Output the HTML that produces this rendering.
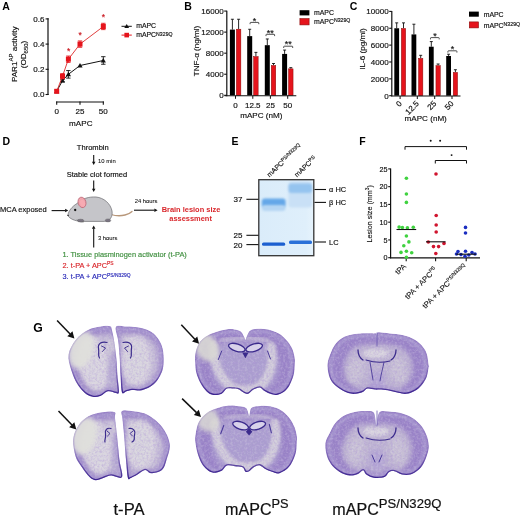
<!DOCTYPE html>
<html><head><meta charset="utf-8"><style>
html,body{margin:0;padding:0;background:#fff;width:520px;height:516px;overflow:hidden}
svg{display:block}
text{font-family:"Liberation Sans", sans-serif}
svg{will-change:transform}
.t{stroke:currentColor;stroke-width:0.22px}
</style></head><body>
<svg width="520" height="516" viewBox="0 0 520 516">
<text x="2.2" y="9.6" font-size="10.5" font-weight="bold" fill="#000" >A</text>
<line x1="48.00" y1="18.30" x2="48.00" y2="95.00" stroke="#111" stroke-width="1.2" />
<line x1="45.60" y1="94.50" x2="48.60" y2="94.50" stroke="#111" stroke-width="1.1" />
<text x="44.4" y="97.4" font-size="8" text-anchor="end" fill="#111" stroke="#111" stroke-width="0.16" >0.0</text>
<line x1="45.60" y1="69.30" x2="48.60" y2="69.30" stroke="#111" stroke-width="1.1" />
<text x="44.4" y="72.2" font-size="8" text-anchor="end" fill="#111" stroke="#111" stroke-width="0.16" >0.2</text>
<line x1="45.60" y1="44.10" x2="48.60" y2="44.10" stroke="#111" stroke-width="1.1" />
<text x="44.4" y="46.99999999999999" font-size="8" text-anchor="end" fill="#111" stroke="#111" stroke-width="0.16" >0.4</text>
<line x1="45.60" y1="18.90" x2="48.60" y2="18.90" stroke="#111" stroke-width="1.1" />
<text x="44.4" y="21.800000000000004" font-size="8" text-anchor="end" fill="#111" stroke="#111" stroke-width="0.16" >0.6</text>
<line x1="56.10" y1="102.00" x2="103.90" y2="102.00" stroke="#111" stroke-width="1.2" />
<line x1="56.70" y1="101.50" x2="56.70" y2="104.70" stroke="#111" stroke-width="1.1" />
<text x="56.7" y="114.2" font-size="8" text-anchor="middle" fill="#111" stroke="#111" stroke-width="0.16" >0</text>
<line x1="80.00" y1="101.50" x2="80.00" y2="104.70" stroke="#111" stroke-width="1.1" />
<text x="80.0" y="114.2" font-size="8" text-anchor="middle" fill="#111" stroke="#111" stroke-width="0.16" >25</text>
<line x1="103.30" y1="101.50" x2="103.30" y2="104.70" stroke="#111" stroke-width="1.1" />
<text x="103.30000000000001" y="114.2" font-size="8" text-anchor="middle" fill="#111" stroke="#111" stroke-width="0.16" >50</text>
<text x="80.8" y="126.3" font-size="8.1" text-anchor="middle" fill="#111" stroke="#111" stroke-width="0.16" >mAPC</text>
<g transform="translate(16.5,54.3) rotate(-90)"><text x="0" y="0" font-size="8.1" text-anchor="middle" fill="#111" stroke="#111" stroke-width="0.16">PAR1<tspan font-size="6" dy="-3.2">AP</tspan><tspan dy="3.2"> activity</tspan></text></g>
<g transform="translate(25.9,54.5) rotate(-90)"><text x="0" y="0" font-size="8.1" text-anchor="middle" fill="#111" stroke="#111" stroke-width="0.16">(OD<tspan font-size="6" dy="2">650</tspan><tspan dy="-2">)</tspan></text></g>
<polyline points="56.7,91.3 62.5,80.6 68.4,74.3 80.0,65.5 103.3,60.5" fill="none" stroke="#111" stroke-width="1"/>
<polygon points="56.7,88.8 54.1,93.3 59.3,93.3" fill="#111"/>
<line x1="62.53" y1="79.38" x2="62.53" y2="81.90" stroke="#111" stroke-width="0.9" />
<line x1="60.33" y1="79.38" x2="64.73" y2="79.38" stroke="#111" stroke-width="0.9" />
<line x1="60.33" y1="81.90" x2="64.73" y2="81.90" stroke="#111" stroke-width="0.9" />
<polygon points="62.5,78.0 59.9,82.6 65.1,82.6" fill="#111"/>
<line x1="68.35" y1="70.56" x2="68.35" y2="78.12" stroke="#111" stroke-width="0.9" />
<line x1="66.15" y1="70.56" x2="70.55" y2="70.56" stroke="#111" stroke-width="0.9" />
<line x1="66.15" y1="78.12" x2="70.55" y2="78.12" stroke="#111" stroke-width="0.9" />
<polygon points="68.4,71.7 65.8,76.3 71.0,76.3" fill="#111"/>
<polygon points="80.0,62.9 77.4,67.5 82.6,67.5" fill="#111"/>
<line x1="103.30" y1="56.70" x2="103.30" y2="64.26" stroke="#111" stroke-width="0.9" />
<line x1="101.10" y1="56.70" x2="105.50" y2="56.70" stroke="#111" stroke-width="0.9" />
<line x1="101.10" y1="64.26" x2="105.50" y2="64.26" stroke="#111" stroke-width="0.9" />
<polygon points="103.3,57.9 100.7,62.5 105.9,62.5" fill="#111"/>
<polyline points="56.7,91.3 62.5,76.2 68.4,59.2 80.0,44.1 103.3,26.5" fill="none" stroke="#dc2a2a" stroke-width="0.9"/>
<line x1="56.70" y1="90.09" x2="56.70" y2="92.61" stroke="#e5141c" stroke-width="0.9" />
<line x1="54.50" y1="90.09" x2="58.90" y2="90.09" stroke="#e5141c" stroke-width="0.9" />
<line x1="54.50" y1="92.61" x2="58.90" y2="92.61" stroke="#e5141c" stroke-width="0.9" />
<rect x="54.2" y="88.8" width="5" height="5" fill="#e5141c"/>
<line x1="62.53" y1="73.71" x2="62.53" y2="78.75" stroke="#e5141c" stroke-width="0.9" />
<line x1="60.33" y1="73.71" x2="64.73" y2="73.71" stroke="#e5141c" stroke-width="0.9" />
<line x1="60.33" y1="78.75" x2="64.73" y2="78.75" stroke="#e5141c" stroke-width="0.9" />
<rect x="60.0" y="73.7" width="5" height="5" fill="#e5141c"/>
<line x1="68.35" y1="56.07" x2="68.35" y2="62.37" stroke="#e5141c" stroke-width="0.9" />
<line x1="66.15" y1="56.07" x2="70.55" y2="56.07" stroke="#e5141c" stroke-width="0.9" />
<line x1="66.15" y1="62.37" x2="70.55" y2="62.37" stroke="#e5141c" stroke-width="0.9" />
<rect x="65.9" y="56.7" width="5" height="5" fill="#e5141c"/>
<line x1="80.00" y1="40.95" x2="80.00" y2="47.25" stroke="#e5141c" stroke-width="0.9" />
<line x1="77.80" y1="40.95" x2="82.20" y2="40.95" stroke="#e5141c" stroke-width="0.9" />
<line x1="77.80" y1="47.25" x2="82.20" y2="47.25" stroke="#e5141c" stroke-width="0.9" />
<rect x="77.5" y="41.6" width="5" height="5" fill="#e5141c"/>
<line x1="103.30" y1="23.31" x2="103.30" y2="29.61" stroke="#e5141c" stroke-width="0.9" />
<line x1="101.10" y1="23.31" x2="105.50" y2="23.31" stroke="#e5141c" stroke-width="0.9" />
<line x1="101.10" y1="29.61" x2="105.50" y2="29.61" stroke="#e5141c" stroke-width="0.9" />
<rect x="100.8" y="24.0" width="5" height="5" fill="#e5141c"/>
<text x="68.55000000000001" y="54.3" font-size="8.5" text-anchor="middle" fill="#c8141c" stroke="#c8141c" stroke-width="0.16" >*</text>
<text x="80.2" y="38.2" font-size="8.5" text-anchor="middle" fill="#c8141c" stroke="#c8141c" stroke-width="0.16" >*</text>
<text x="103.50000000000001" y="20.3" font-size="8.5" text-anchor="middle" fill="#c8141c" stroke="#c8141c" stroke-width="0.16" >*</text>
<line x1="121.50" y1="26.30" x2="131.80" y2="26.30" stroke="#111" stroke-width="1" />
<polygon points="126.7,23.9 124.3,28 129.1,28" fill="#111"/>
<text x="136.2" y="28.4" font-size="6.9" fill="#111" stroke="#111" stroke-width="0.16" >mAPC</text>
<line x1="121.50" y1="35.10" x2="131.80" y2="35.10" stroke="#e5141c" stroke-width="1" />
<rect x="124.4" y="32.8" width="4.6" height="4.6" fill="#e5141c"/>
<text x="136.2" y="37.4" font-size="6.9" fill="#111" stroke="#111" stroke-width="0.16" >mAPC<tspan font-size="5.2" dy="-1.8">N329Q</tspan></text>
<text x="184.2" y="9.8" font-size="10.5" font-weight="bold" fill="#000" >B</text>
<line x1="226.80" y1="10.70" x2="226.80" y2="96.30" stroke="#111" stroke-width="1.2" />
<line x1="224.20" y1="95.30" x2="226.80" y2="95.30" stroke="#111" stroke-width="1.1" />
<text x="223.6" y="98.2" font-size="8" text-anchor="end" fill="#111" stroke="#111" stroke-width="0.16" >0</text>
<line x1="224.20" y1="74.24" x2="226.80" y2="74.24" stroke="#111" stroke-width="1.1" />
<text x="223.6" y="77.14" font-size="8" text-anchor="end" fill="#111" stroke="#111" stroke-width="0.16" >4000</text>
<line x1="224.20" y1="53.18" x2="226.80" y2="53.18" stroke="#111" stroke-width="1.1" />
<text x="223.6" y="56.08" font-size="8" text-anchor="end" fill="#111" stroke="#111" stroke-width="0.16" >8000</text>
<line x1="224.20" y1="32.12" x2="226.80" y2="32.12" stroke="#111" stroke-width="1.1" />
<text x="223.6" y="35.019999999999996" font-size="8" text-anchor="end" fill="#111" stroke="#111" stroke-width="0.16" >12000</text>
<line x1="224.20" y1="11.06" x2="226.80" y2="11.06" stroke="#111" stroke-width="1.1" />
<text x="223.6" y="13.960000000000003" font-size="8" text-anchor="end" fill="#111" stroke="#111" stroke-width="0.16" >16000</text>
<g transform="translate(199.3,51) rotate(-90)"><text x="0" y="0" font-size="8.1" text-anchor="middle" fill="#111" stroke="#111" stroke-width="0.16">TNF-α (ng/ml)</text></g>
<line x1="232.40" y1="19.25" x2="232.40" y2="29.60" stroke="#111" stroke-width="0.9" />
<line x1="230.90" y1="19.25" x2="233.90" y2="19.25" stroke="#111" stroke-width="0.9" />
<rect x="229.90" y="29.60" width="5.0" height="65.70" fill="#000"/>
<line x1="238.60" y1="19.25" x2="238.60" y2="28.96" stroke="#111" stroke-width="0.9" />
<line x1="237.10" y1="19.25" x2="240.10" y2="19.25" stroke="#111" stroke-width="0.9" />
<rect x="236.35" y="29.21" width="4.5" height="66.09" fill="#e5141c" stroke="#8a0a0a" stroke-width="0.5"/>
<line x1="249.70" y1="29.28" x2="249.70" y2="36.12" stroke="#111" stroke-width="0.9" />
<line x1="248.20" y1="29.28" x2="251.20" y2="29.28" stroke="#111" stroke-width="0.9" />
<rect x="247.20" y="36.12" width="5.0" height="59.18" fill="#000"/>
<line x1="255.90" y1="52.39" x2="255.90" y2="56.34" stroke="#111" stroke-width="0.9" />
<line x1="254.40" y1="52.39" x2="257.40" y2="52.39" stroke="#111" stroke-width="0.9" />
<rect x="253.65" y="56.59" width="4.5" height="38.71" fill="#e5141c" stroke="#8a0a0a" stroke-width="0.5"/>
<line x1="267.30" y1="38.96" x2="267.30" y2="45.18" stroke="#111" stroke-width="0.9" />
<line x1="265.80" y1="38.96" x2="268.80" y2="38.96" stroke="#111" stroke-width="0.9" />
<rect x="264.80" y="45.18" width="5.0" height="50.12" fill="#000"/>
<line x1="273.50" y1="63.50" x2="273.50" y2="65.29" stroke="#111" stroke-width="0.9" />
<line x1="272.00" y1="63.50" x2="275.00" y2="63.50" stroke="#111" stroke-width="0.9" />
<rect x="271.25" y="65.54" width="4.5" height="29.76" fill="#e5141c" stroke="#8a0a0a" stroke-width="0.5"/>
<line x1="284.60" y1="50.07" x2="284.60" y2="53.92" stroke="#111" stroke-width="0.9" />
<line x1="283.10" y1="50.07" x2="286.10" y2="50.07" stroke="#111" stroke-width="0.9" />
<rect x="282.10" y="53.92" width="5.0" height="41.38" fill="#000"/>
<line x1="290.80" y1="67.66" x2="290.80" y2="68.61" stroke="#111" stroke-width="0.9" />
<line x1="289.30" y1="67.66" x2="292.30" y2="67.66" stroke="#111" stroke-width="0.9" />
<rect x="288.55" y="68.86" width="4.5" height="26.44" fill="#e5141c" stroke="#8a0a0a" stroke-width="0.5"/>
<line x1="224.50" y1="95.80" x2="296.30" y2="95.80" stroke="#111" stroke-width="1.1" />
<line x1="235.50" y1="95.80" x2="235.50" y2="98.80" stroke="#111" stroke-width="1.0" />
<text x="235.5" y="107.6" font-size="8" text-anchor="middle" fill="#111" stroke="#111" stroke-width="0.16" >0</text>
<line x1="252.80" y1="95.80" x2="252.80" y2="98.80" stroke="#111" stroke-width="1.0" />
<text x="252.8" y="107.6" font-size="8" text-anchor="middle" fill="#111" stroke="#111" stroke-width="0.16" >12.5</text>
<line x1="270.40" y1="95.80" x2="270.40" y2="98.80" stroke="#111" stroke-width="1.0" />
<text x="270.4" y="107.6" font-size="8" text-anchor="middle" fill="#111" stroke="#111" stroke-width="0.16" >25</text>
<line x1="287.70" y1="95.80" x2="287.70" y2="98.80" stroke="#111" stroke-width="1.0" />
<text x="287.7" y="107.6" font-size="8" text-anchor="middle" fill="#111" stroke="#111" stroke-width="0.16" >50</text>
<text x="261.3" y="117.7" font-size="8.1" text-anchor="middle" fill="#111" stroke="#111" stroke-width="0.16" >mAPC (nM)</text>
<path d="M250.1,24.2 L250.1,23.0 Q250.1,22.4 250.7,22.4 L258.2,22.4 Q258.8,22.4 258.8,23.0 L258.8,24.2" fill="none" stroke="#222" stroke-width="0.8"/>
<text x="254.5" y="23.9" font-size="9" text-anchor="middle" fill="#111" stroke="#111" stroke-width="0.16" >*</text>
<path d="M266,36.099999999999994 L266,34.9 Q266,34.3 266.6,34.3 L274.0,34.3 Q274.6,34.3 274.6,34.9 L274.6,36.099999999999994" fill="none" stroke="#222" stroke-width="0.8"/>
<text x="270.3" y="35.7" font-size="9" text-anchor="middle" fill="#111" stroke="#111" stroke-width="0.16" >**</text>
<path d="M283.7,48.0 L283.7,46.800000000000004 Q283.7,46.2 284.3,46.2 L292.09999999999997,46.2 Q292.7,46.2 292.7,46.800000000000004 L292.7,48.0" fill="none" stroke="#222" stroke-width="0.8"/>
<text x="288.2" y="47.3" font-size="9" text-anchor="middle" fill="#111" stroke="#111" stroke-width="0.16" >**</text>
<rect x="299.6" y="10.2" width="9.8" height="5.2" fill="#000"/>
<rect x="299.9" y="18.6" width="9.2" height="6.3" fill="#e5141c" stroke="#8a0a0a" stroke-width="0.6"/>
<text x="314" y="15.4" font-size="6.9" fill="#111" stroke="#111" stroke-width="0.16" >mAPC</text>
<text x="314" y="24.2" font-size="6.9" fill="#111" stroke="#111" stroke-width="0.16" >mAPC<tspan font-size="5.2" dy="-1.8">N329Q</tspan></text>
<text x="349.8" y="9.8" font-size="10.5" font-weight="bold" fill="#000" >C</text>
<line x1="391.80" y1="10.90" x2="391.80" y2="96.30" stroke="#111" stroke-width="1.2" />
<line x1="389.20" y1="95.70" x2="391.80" y2="95.70" stroke="#111" stroke-width="1.1" />
<text x="388.6" y="98.60000000000001" font-size="8" text-anchor="end" fill="#111" stroke="#111" stroke-width="0.16" >0</text>
<line x1="389.20" y1="78.84" x2="391.80" y2="78.84" stroke="#111" stroke-width="1.1" />
<text x="388.6" y="81.74000000000001" font-size="8" text-anchor="end" fill="#111" stroke="#111" stroke-width="0.16" >2000</text>
<line x1="389.20" y1="61.98" x2="391.80" y2="61.98" stroke="#111" stroke-width="1.1" />
<text x="388.6" y="64.88000000000001" font-size="8" text-anchor="end" fill="#111" stroke="#111" stroke-width="0.16" >4000</text>
<line x1="389.20" y1="45.12" x2="391.80" y2="45.12" stroke="#111" stroke-width="1.1" />
<text x="388.6" y="48.02" font-size="8" text-anchor="end" fill="#111" stroke="#111" stroke-width="0.16" >6000</text>
<line x1="389.20" y1="28.26" x2="391.80" y2="28.26" stroke="#111" stroke-width="1.1" />
<text x="388.6" y="31.160000000000004" font-size="8" text-anchor="end" fill="#111" stroke="#111" stroke-width="0.16" >8000</text>
<line x1="389.20" y1="11.40" x2="391.80" y2="11.40" stroke="#111" stroke-width="1.1" />
<text x="388.6" y="14.300000000000006" font-size="8" text-anchor="end" fill="#111" stroke="#111" stroke-width="0.16" >10000</text>
<g transform="translate(365.2,49) rotate(-90)"><text x="0" y="0" font-size="8.1" text-anchor="middle" fill="#111" stroke="#111" stroke-width="0.16">IL-6 (pg/ml)</text></g>
<line x1="396.70" y1="22.86" x2="396.70" y2="28.26" stroke="#111" stroke-width="0.9" />
<line x1="395.20" y1="22.86" x2="398.20" y2="22.86" stroke="#111" stroke-width="0.9" />
<rect x="394.30" y="28.26" width="4.8" height="67.44" fill="#000"/>
<line x1="403.50" y1="22.86" x2="403.50" y2="28.26" stroke="#111" stroke-width="0.9" />
<line x1="402.00" y1="22.86" x2="405.00" y2="22.86" stroke="#111" stroke-width="0.9" />
<rect x="401.35" y="28.51" width="4.3" height="67.19" fill="#e5141c" stroke="#8a0a0a" stroke-width="0.5"/>
<line x1="413.90" y1="24.21" x2="413.90" y2="34.41" stroke="#111" stroke-width="0.9" />
<line x1="412.40" y1="24.21" x2="415.40" y2="24.21" stroke="#111" stroke-width="0.9" />
<rect x="411.50" y="34.41" width="4.8" height="61.29" fill="#000"/>
<line x1="420.70" y1="55.32" x2="420.70" y2="58.19" stroke="#111" stroke-width="0.9" />
<line x1="419.20" y1="55.32" x2="422.20" y2="55.32" stroke="#111" stroke-width="0.9" />
<rect x="418.55" y="58.44" width="4.3" height="37.26" fill="#e5141c" stroke="#8a0a0a" stroke-width="0.5"/>
<line x1="431.30" y1="41.58" x2="431.30" y2="46.72" stroke="#111" stroke-width="0.9" />
<line x1="429.80" y1="41.58" x2="432.80" y2="41.58" stroke="#111" stroke-width="0.9" />
<rect x="428.90" y="46.72" width="4.8" height="48.98" fill="#000"/>
<line x1="438.10" y1="64.00" x2="438.10" y2="65.44" stroke="#111" stroke-width="0.9" />
<line x1="436.60" y1="64.00" x2="439.60" y2="64.00" stroke="#111" stroke-width="0.9" />
<rect x="435.95" y="65.69" width="4.3" height="30.01" fill="#e5141c" stroke="#8a0a0a" stroke-width="0.5"/>
<line x1="448.60" y1="54.22" x2="448.60" y2="55.99" stroke="#111" stroke-width="0.9" />
<line x1="447.10" y1="54.22" x2="450.10" y2="54.22" stroke="#111" stroke-width="0.9" />
<rect x="446.20" y="55.99" width="4.8" height="39.71" fill="#000"/>
<line x1="455.40" y1="69.74" x2="455.40" y2="72.18" stroke="#111" stroke-width="0.9" />
<line x1="453.90" y1="69.74" x2="456.90" y2="69.74" stroke="#111" stroke-width="0.9" />
<rect x="453.25" y="72.43" width="4.3" height="23.27" fill="#e5141c" stroke="#8a0a0a" stroke-width="0.5"/>
<line x1="391.20" y1="96.00" x2="460.50" y2="96.00" stroke="#111" stroke-width="1.1" />
<line x1="400.10" y1="96.00" x2="400.10" y2="99.00" stroke="#111" stroke-width="1.0" />
<g transform="translate(402.3,104.2) rotate(-45)"><text x="0" y="0" font-size="8" text-anchor="end" fill="#111" stroke="#111" stroke-width="0.16">0</text></g>
<line x1="417.30" y1="96.00" x2="417.30" y2="99.00" stroke="#111" stroke-width="1.0" />
<g transform="translate(419.5,104.2) rotate(-45)"><text x="0" y="0" font-size="8" text-anchor="end" fill="#111" stroke="#111" stroke-width="0.16">12.5</text></g>
<line x1="434.70" y1="96.00" x2="434.70" y2="99.00" stroke="#111" stroke-width="1.0" />
<g transform="translate(436.9,104.2) rotate(-45)"><text x="0" y="0" font-size="8" text-anchor="end" fill="#111" stroke="#111" stroke-width="0.16">25</text></g>
<line x1="452.00" y1="96.00" x2="452.00" y2="99.00" stroke="#111" stroke-width="1.0" />
<g transform="translate(454.2,104.2) rotate(-45)"><text x="0" y="0" font-size="8" text-anchor="end" fill="#111" stroke="#111" stroke-width="0.16">50</text></g>
<text x="425.7" y="121" font-size="8.1" text-anchor="middle" fill="#111" stroke="#111" stroke-width="0.16" >mAPC (nM)</text>
<path d="M430.5,39.4 L430.5,38.2 Q430.5,37.6 431.1,37.6 L438.59999999999997,37.6 Q439.2,37.6 439.2,38.2 L439.2,39.4" fill="none" stroke="#222" stroke-width="0.8"/>
<text x="435" y="38.7" font-size="9" text-anchor="middle" fill="#111" stroke="#111" stroke-width="0.16" >*</text>
<path d="M447.9,52.599999999999994 L447.9,51.4 Q447.9,50.8 448.5,50.8 L456.29999999999995,50.8 Q456.9,50.8 456.9,51.4 L456.9,52.599999999999994" fill="none" stroke="#222" stroke-width="0.8"/>
<text x="452.4" y="51.7" font-size="9" text-anchor="middle" fill="#111" stroke="#111" stroke-width="0.16" >*</text>
<rect x="469" y="11.6" width="9.8" height="5.1" fill="#000"/>
<rect x="469.3" y="21.9" width="9.2" height="6" fill="#e5141c" stroke="#8a0a0a" stroke-width="0.6"/>
<text x="483.7" y="16.8" font-size="6.9" fill="#111" stroke="#111" stroke-width="0.16" >mAPC</text>
<text x="483.7" y="27.5" font-size="6.9" fill="#111" stroke="#111" stroke-width="0.16" >mAPC<tspan font-size="5.2" dy="-1.8">N329Q</tspan></text>
<text x="2.4" y="145.4" font-size="10.5" font-weight="bold" fill="#000" >D</text>
<text x="92.8" y="150.3" font-size="7.55" text-anchor="middle" fill="#111" stroke="#111" stroke-width="0.16" >Thrombin</text>
<line x1="93.70" y1="155.00" x2="93.70" y2="162.10" stroke="#111" stroke-width="1.1" />
<polygon points="93.70,165.00 91.94,161.80 95.46,161.80" fill="#111"/>
<text x="98" y="163.2" font-size="5.9" fill="#111" stroke="#111" stroke-width="0.08" >10 min</text>
<text x="97" y="177.4" font-size="7.5" text-anchor="middle" fill="#111" stroke="#111" stroke-width="0.16" >Stable clot formed</text>
<line x1="93.70" y1="180.40" x2="93.70" y2="189.00" stroke="#111" stroke-width="1.1" />
<polygon points="93.70,191.90 91.94,188.70 95.46,188.70" fill="#111"/>
<text x="0" y="212" font-size="7.5" fill="#111" stroke="#111" stroke-width="0.16" >MCA exposed</text>
<line x1="51.60" y1="210.60" x2="65.40" y2="210.60" stroke="#111" stroke-width="1.1" />
<polygon points="68.30,210.60 65.10,212.36 65.10,208.84" fill="#111"/>
<line x1="93.70" y1="247.50" x2="93.70" y2="228.40" stroke="#111" stroke-width="1.1" />
<polygon points="93.70,225.50 95.46,228.70 91.94,228.70" fill="#111"/>
<text x="98" y="240.4" font-size="5.8" fill="#111" stroke="#111" stroke-width="0.08" >3 hours</text>
<text x="134.8" y="202.7" font-size="5.8" fill="#111" stroke="#111" stroke-width="0.08" >24 hours</text>
<line x1="134.00" y1="210.20" x2="154.70" y2="210.20" stroke="#111" stroke-width="1.1" />
<polygon points="157.60,210.20 154.40,211.96 154.40,208.44" fill="#111"/>
<text x="191" y="212.2" font-size="7.45" text-anchor="middle" font-weight="bold" fill="#d9262b" >Brain lesion size</text>
<text x="190.6" y="221.1" font-size="7.45" text-anchor="middle" font-weight="bold" fill="#d9262b" >assessment</text>
<text x="62.5" y="256.8" font-size="7.4" fill="#3f8f3f" stroke="#3f8f3f" stroke-width="0.16" >1. Tissue plasminogen activator (t-PA)</text>
<text x="62.5" y="268.2" font-size="7.35" fill="#d9262b" stroke="#d9262b" stroke-width="0.16" >2. t-PA + APC<tspan font-size="4.9" dy="-2.8">PS</tspan></text>
<text x="62.5" y="279.4" font-size="7.35" fill="#2a2ab8" stroke="#2a2ab8" stroke-width="0.16" >3. t-PA + APC<tspan font-size="4.9" dy="-2.8">PS/N329Q</tspan></text>
<path d="M111,214.5 C 116,216 121,216 125,215 C 128,214.3 130.5,213 132,211.5" fill="none" stroke="#b8977a" stroke-width="1.3" stroke-linecap="round"/>
<path d="M67.8,215.4 C 68.5,211 72,206.5 77,203.5 C 82,198.5 89,196.6 96,197 C 104,197.8 110.5,203.5 112,211 C 112.8,216.5 110.5,220.8 104.5,221.4 L 81,221.4 C 75,221 69.5,218.8 67.8,215.4 Z" fill="#c5c5c9" stroke="#6a6a6e" stroke-width="0.7"/>
<path d="M77,219.5 C 78,221.5 81,222.3 84,221.8" fill="none" stroke="#555" stroke-width="0.6"/>
<ellipse cx="80.6" cy="220.6" rx="3.2" ry="1.4" fill="#7a7482" stroke="#555" stroke-width="0.4"/>
<ellipse cx="108" cy="220.4" rx="2.8" ry="1.5" fill="#7a7482" stroke="#555" stroke-width="0.4"/>
<ellipse cx="82" cy="202.4" rx="3.9" ry="5.3" transform="rotate(-15 82 202.4)" fill="#f0a4ac" stroke="#b86070" stroke-width="0.7"/>
<ellipse cx="82.6" cy="203.2" rx="2.4" ry="3.6" transform="rotate(-15 82.6 203.2)" fill="#f7aab2"/>
<circle cx="75.2" cy="210" r="1.15" fill="#111"/>
<circle cx="68.1" cy="215.4" r="0.7" fill="#222"/>
<text x="231.6" y="145.2" font-size="10.5" font-weight="bold" fill="#000" >E</text>
<defs>
<linearGradient id="gelbg" x1="0" y1="0" x2="1" y2="0"><stop offset="0" stop-color="#daecfa"/><stop offset="0.85" stop-color="#dfeffb"/><stop offset="1" stop-color="#e6f3fc"/></linearGradient>
<filter id="blur1" x="-20%" y="-60%" width="140%" height="220%"><feGaussianBlur stdDeviation="1.2"/></filter>
<filter id="blur05" x="-20%" y="-100%" width="140%" height="300%"><feGaussianBlur stdDeviation="0.6"/></filter>
<clipPath id="gelclip"><rect x="258.8" y="179.7" width="55" height="76"/></clipPath>
</defs>
<rect x="258.8" y="179.7" width="55" height="76" fill="url(#gelbg)"/>
<g clip-path="url(#gelclip)">
<rect x="288.5" y="181.5" width="23.5" height="26" rx="3" fill="#c9e0f6" filter="url(#blur1)"/>
<rect x="288.5" y="183.5" width="23.5" height="9.5" rx="3" fill="#95c4ef" filter="url(#blur1)"/>
<rect x="261.8" y="198.4" width="23.8" height="9" rx="3" fill="#65a7e8" filter="url(#blur1)"/><rect x="262" y="205" width="23.5" height="6" rx="3" fill="#b5d5f3" filter="url(#blur1)"/>
<rect x="262" y="242.6" width="23.2" height="3.1" rx="1.5" fill="#1a5fd0" filter="url(#blur05)"/>
<rect x="289" y="240.4" width="23" height="3.5" rx="1.5" fill="#2a6fd8" filter="url(#blur05)"/>
</g>
<rect x="258.8" y="179.7" width="55" height="76" fill="none" stroke="#333" stroke-width="1.3"/>
<line x1="246.40" y1="199.30" x2="258.50" y2="199.30" stroke="#111" stroke-width="1.1" />
<text x="242.5" y="202.20000000000002" font-size="8" text-anchor="end" fill="#111" stroke="#111" stroke-width="0.16" >37</text>
<line x1="246.40" y1="235.30" x2="258.50" y2="235.30" stroke="#111" stroke-width="1.1" />
<text x="242.5" y="238.20000000000002" font-size="8" text-anchor="end" fill="#111" stroke="#111" stroke-width="0.16" >25</text>
<line x1="246.40" y1="244.60" x2="258.50" y2="244.60" stroke="#111" stroke-width="1.1" />
<text x="242.5" y="247.5" font-size="8" text-anchor="end" fill="#111" stroke="#111" stroke-width="0.16" >20</text>
<line x1="314.50" y1="189.50" x2="326.00" y2="189.50" stroke="#111" stroke-width="1.1" />
<text x="329.1" y="191.5" font-size="7.4" fill="#111" stroke="#111" stroke-width="0.16" >α HC</text>
<line x1="314.50" y1="202.40" x2="326.00" y2="202.40" stroke="#111" stroke-width="1.1" />
<text x="329.1" y="205.2" font-size="7.4" fill="#111" stroke="#111" stroke-width="0.16" >β HC</text>
<line x1="314.50" y1="242.00" x2="326.00" y2="242.00" stroke="#111" stroke-width="1.1" />
<text x="329.1" y="244.8" font-size="7.4" fill="#111" stroke="#111" stroke-width="0.16" >LC</text>
<g transform="translate(269.5,177.5) rotate(-43)"><text x="0" y="0" font-size="7" fill="#111" stroke="#111" stroke-width="0.14">mAPC<tspan font-size="5.1" dy="-2.4">PS/N329Q</tspan></text></g>
<g transform="translate(297,177.5) rotate(-43)"><text x="0" y="0" font-size="7" fill="#111" stroke="#111" stroke-width="0.14">mAPC<tspan font-size="5.1" dy="-2.4">PS</tspan></text></g>
<text x="359.2" y="145.3" font-size="10.5" font-weight="bold" fill="#000" >F</text>
<line x1="390.60" y1="168.50" x2="390.60" y2="258.20" stroke="#111" stroke-width="1.2" />
<line x1="388.20" y1="257.70" x2="390.60" y2="257.70" stroke="#111" stroke-width="1.1" />
<text x="387.6" y="260.3" font-size="7.2" text-anchor="end" fill="#111" stroke="#111" stroke-width="0.16" >0</text>
<line x1="388.20" y1="239.94" x2="390.60" y2="239.94" stroke="#111" stroke-width="1.1" />
<text x="387.6" y="242.54" font-size="7.2" text-anchor="end" fill="#111" stroke="#111" stroke-width="0.16" >5</text>
<line x1="388.20" y1="222.18" x2="390.60" y2="222.18" stroke="#111" stroke-width="1.1" />
<text x="387.6" y="224.77999999999997" font-size="7.2" text-anchor="end" fill="#111" stroke="#111" stroke-width="0.16" >10</text>
<line x1="388.20" y1="204.42" x2="390.60" y2="204.42" stroke="#111" stroke-width="1.1" />
<text x="387.6" y="207.01999999999998" font-size="7.2" text-anchor="end" fill="#111" stroke="#111" stroke-width="0.16" >15</text>
<line x1="388.20" y1="186.66" x2="390.60" y2="186.66" stroke="#111" stroke-width="1.1" />
<text x="387.6" y="189.25999999999996" font-size="7.2" text-anchor="end" fill="#111" stroke="#111" stroke-width="0.16" >20</text>
<line x1="388.20" y1="168.90" x2="390.60" y2="168.90" stroke="#111" stroke-width="1.1" />
<text x="387.6" y="171.49999999999997" font-size="7.2" text-anchor="end" fill="#111" stroke="#111" stroke-width="0.16" >25</text>
<line x1="390.00" y1="257.90" x2="480.00" y2="257.90" stroke="#111" stroke-width="1.2" />
<line x1="406.20" y1="257.90" x2="406.20" y2="261.30" stroke="#111" stroke-width="1.1" />
<line x1="435.60" y1="257.90" x2="435.60" y2="261.30" stroke="#111" stroke-width="1.1" />
<line x1="466.20" y1="257.90" x2="466.20" y2="261.30" stroke="#111" stroke-width="1.1" />
<g transform="translate(371.5,213.8) rotate(-90)"><text x="0" y="0" font-size="7.2" text-anchor="middle" fill="#111" stroke="#111" stroke-width="0.14">Lesion size (mm<tspan font-size="4.8" dy="-2.8">3</tspan><tspan dy="2.8">)</tspan></text></g>
<polyline points="405,149.7 405,146.6 466.5,146.6 466.5,149.7" fill="none" stroke="#111" stroke-width="1"/>
<polyline points="435.3,163.5 435.3,160.5 466.5,160.5 466.5,163.5" fill="none" stroke="#111" stroke-width="1"/>
<circle cx="430.7" cy="140.8" r="1" fill="#111"/><circle cx="440.1" cy="140.8" r="1" fill="#111"/><circle cx="451.6" cy="155.1" r="0.95" fill="#111"/>
<circle cx="406.4" cy="178.2" r="1.8" fill="#3fd23f"/>
<circle cx="406.4" cy="194" r="1.8" fill="#3fd23f"/>
<circle cx="406.4" cy="202.4" r="1.8" fill="#3fd23f"/>
<circle cx="399.1" cy="227.1" r="1.8" fill="#3fd23f"/>
<circle cx="402.4" cy="227.5" r="1.8" fill="#3fd23f"/>
<circle cx="407.4" cy="227.8" r="1.8" fill="#3fd23f"/>
<circle cx="413.3" cy="227.3" r="1.8" fill="#3fd23f"/>
<circle cx="406.4" cy="236" r="1.8" fill="#3fd23f"/>
<circle cx="408.9" cy="241.9" r="1.8" fill="#3fd23f"/>
<circle cx="403.8" cy="245.8" r="1.8" fill="#3fd23f"/>
<circle cx="401" cy="252.4" r="1.8" fill="#3fd23f"/>
<circle cx="406.4" cy="251.2" r="1.8" fill="#3fd23f"/>
<circle cx="411.7" cy="252.8" r="1.8" fill="#3fd23f"/>
<circle cx="406.4" cy="257.3" r="1.8" fill="#3fd23f"/>
<circle cx="436" cy="174" r="1.8" fill="#d0142e"/>
<circle cx="436.2" cy="215.5" r="1.8" fill="#d0142e"/>
<circle cx="436.2" cy="225" r="1.8" fill="#d0142e"/>
<circle cx="436.2" cy="232" r="1.8" fill="#d0142e"/>
<circle cx="428.3" cy="242" r="1.8" fill="#d0142e"/>
<circle cx="444" cy="243.4" r="1.8" fill="#d0142e"/>
<circle cx="433.5" cy="246.6" r="1.8" fill="#d0142e"/>
<circle cx="438.6" cy="246.6" r="1.8" fill="#d0142e"/>
<circle cx="435.8" cy="253.5" r="1.8" fill="#d0142e"/>
<circle cx="465.5" cy="227.4" r="1.8" fill="#1b2ec0"/>
<circle cx="465.5" cy="233" r="1.8" fill="#1b2ec0"/>
<circle cx="458" cy="251.5" r="1.8" fill="#1b2ec0"/>
<circle cx="465.5" cy="251.3" r="1.8" fill="#1b2ec0"/>
<circle cx="472" cy="252.6" r="1.8" fill="#1b2ec0"/>
<circle cx="461" cy="254.6" r="1.8" fill="#1b2ec0"/>
<circle cx="465" cy="256.2" r="1.8" fill="#1b2ec0"/>
<circle cx="468.8" cy="255" r="1.8" fill="#1b2ec0"/>
<circle cx="456.5" cy="254" r="1.8" fill="#1b2ec0"/>
<circle cx="475" cy="254" r="1.8" fill="#1b2ec0"/>
<line x1="396.50" y1="229.50" x2="416.20" y2="229.50" stroke="#111" stroke-width="1.1" />
<line x1="426.00" y1="241.80" x2="445.60" y2="241.80" stroke="#111" stroke-width="1.1" />
<line x1="456.20" y1="254.20" x2="476.20" y2="254.20" stroke="#111" stroke-width="1.1" />
<g transform="translate(406.6,266.8) rotate(-45)"><text x="0" y="0" font-size="7.6" text-anchor="end" fill="#111" stroke="#111" stroke-width="0.14">tPA</text></g>
<g transform="translate(437.5,270.2) rotate(-45)"><text x="0" y="0" font-size="7.6" text-anchor="end" fill="#111" stroke="#111" stroke-width="0.14">tPA + APC<tspan font-size="5" dy="-2.9">PS</tspan></text></g>
<g transform="translate(467.3,267.2) rotate(-45)"><text x="0" y="0" font-size="7.6" text-anchor="end" fill="#111" stroke="#111" stroke-width="0.14">tPA + APC<tspan font-size="5" dy="-2.9">PS/N329Q</tspan></text></g>
<defs>
<filter id="bb3" x="-30%" y="-30%" width="160%" height="160%"><feGaussianBlur stdDeviation="3"/></filter>
<filter id="bb2" x="-30%" y="-30%" width="160%" height="160%"><feGaussianBlur stdDeviation="2"/></filter>
<filter id="bb15" x="-30%" y="-30%" width="160%" height="160%"><feGaussianBlur stdDeviation="1.4"/></filter>
<filter id="bb1" x="-30%" y="-30%" width="160%" height="160%"><feGaussianBlur stdDeviation="0.9"/></filter>
<filter id="texd" x="0" y="0" width="100%" height="100%"><feTurbulence type="fractalNoise" baseFrequency="0.45" numOctaves="2" seed="4"/><feColorMatrix type="matrix" values="0 0 0 0 0.42  0 0 0 0 0.3  0 0 0 0 0.68  0 0 0 2.6 -1.05"/></filter>
<filter id="texl" x="0" y="0" width="100%" height="100%"><feTurbulence type="fractalNoise" baseFrequency="0.42" numOctaves="2" seed="9"/><feColorMatrix type="matrix" values="0 0 0 0 0.87  0 0 0 0 0.85  0 0 0 0 0.89  0 0 0 2.6 -1.1"/></filter>
<filter id="rough" x="-5%" y="-5%" width="110%" height="110%"><feTurbulence type="fractalNoise" baseFrequency="0.7" numOctaves="1" seed="7" result="t"/><feDisplacementMap in="SourceGraphic" in2="t" scale="1.6" xChannelSelector="R" yChannelSelector="G"/></filter>
</defs>
<text x="33.2" y="332" font-size="12.2" font-weight="bold" fill="#000" >G</text>
<clipPath id="bc1"><path d="M110.4,326.2 C109.0,325.5 106.6,325.5 103.4,325.9 C100.2,326.3 94.6,327.1 91.0,328.5 C87.4,329.9 84.3,332.1 81.7,334.0 C79.1,335.9 77.5,337.6 75.5,340.2 C73.5,342.8 71.2,346.4 70.0,349.5 C68.8,352.6 68.2,355.2 68.5,358.8 C68.8,362.4 70.2,367.1 71.6,371.2 C73.0,375.3 74.8,380.0 77.0,383.6 C79.2,387.2 82.2,390.7 84.8,392.9 C87.4,395.1 90.0,396.2 92.6,396.7 C95.2,397.2 97.7,396.9 100.3,396.0 C102.9,395.1 105.4,391.8 108.0,391.3 C110.6,390.8 114.0,392.8 115.8,392.9 C117.6,393.0 118.6,395.1 118.9,392.1 C119.2,389.1 117.8,380.6 117.4,375.0 C117.0,369.4 117.1,364.6 116.5,358.8 C115.9,353.0 114.8,344.8 114.0,340.0 C113.2,335.2 112.6,332.3 112.0,330.0 C111.4,327.7 111.8,326.9 110.4,326.2 Z"/></clipPath>
<linearGradient id="eg1" gradientUnits="userSpaceOnUse" x1="0" y1="325.9" x2="0" y2="396.7"><stop offset="0" stop-color="#7a62b8" stop-opacity="0.12"/><stop offset="0.5" stop-color="#6a50ae" stop-opacity="0.18"/><stop offset="0.8" stop-color="#4a3098" stop-opacity="0.7"/><stop offset="1" stop-color="#3c2590" stop-opacity="1"/></linearGradient>
<g filter="url(#rough)"><g clip-path="url(#bc1)">
<path d="M110.4,326.2 C109.0,325.5 106.6,325.5 103.4,325.9 C100.2,326.3 94.6,327.1 91.0,328.5 C87.4,329.9 84.3,332.1 81.7,334.0 C79.1,335.9 77.5,337.6 75.5,340.2 C73.5,342.8 71.2,346.4 70.0,349.5 C68.8,352.6 68.2,355.2 68.5,358.8 C68.8,362.4 70.2,367.1 71.6,371.2 C73.0,375.3 74.8,380.0 77.0,383.6 C79.2,387.2 82.2,390.7 84.8,392.9 C87.4,395.1 90.0,396.2 92.6,396.7 C95.2,397.2 97.7,396.9 100.3,396.0 C102.9,395.1 105.4,391.8 108.0,391.3 C110.6,390.8 114.0,392.8 115.8,392.9 C117.6,393.0 118.6,395.1 118.9,392.1 C119.2,389.1 117.8,380.6 117.4,375.0 C117.0,369.4 117.1,364.6 116.5,358.8 C115.9,353.0 114.8,344.8 114.0,340.0 C113.2,335.2 112.6,332.3 112.0,330.0 C111.4,327.7 111.8,326.9 110.4,326.2 Z" fill="#9882c6"/>
<path d="M109.4,329.1 C108.1,328.5 105.9,328.5 102.9,328.8 C99.9,329.2 94.7,330.0 91.4,331.2 C88.0,332.4 85.1,334.5 82.7,336.3 C80.3,338.1 78.8,339.6 77.0,342.0 C75.1,344.3 72.9,347.7 71.8,350.5 C70.8,353.4 70.2,355.8 70.4,359.1 C70.7,362.4 72.0,366.7 73.3,370.5 C74.6,374.3 76.3,378.6 78.3,381.9 C80.4,385.2 83.2,388.4 85.6,390.5 C88.0,392.5 90.5,393.5 92.9,393.9 C95.3,394.4 97.6,394.1 100.0,393.3 C102.4,392.5 104.8,389.5 107.2,389.0 C109.6,388.5 112.7,390.3 114.4,390.5 C116.1,390.6 117.1,392.5 117.3,389.7 C117.6,387.0 116.3,379.1 115.9,374.0 C115.5,368.9 115.6,364.4 115.1,359.1 C114.6,353.7 113.5,346.2 112.8,341.8 C112.1,337.4 111.5,334.7 110.9,332.6 C110.3,330.5 110.7,329.7 109.4,329.1 Z" fill="none" stroke="#ab9dd2" stroke-width="2" filter="url(#bb1)"/>
<path d="M109.6,333.7 C108.4,333.1 106.6,333.1 104.0,333.5 C101.4,333.8 97.0,334.5 94.1,335.6 C91.2,336.7 88.7,338.5 86.6,340.1 C84.6,341.7 83.2,343.1 81.7,345.2 C80.1,347.3 78.2,350.3 77.3,352.8 C76.3,355.3 75.8,357.5 76.1,360.4 C76.3,363.4 77.4,367.2 78.5,370.6 C79.7,374.0 81.1,377.8 82.9,380.8 C84.6,383.7 87.0,386.6 89.1,388.4 C91.2,390.2 93.3,391.1 95.3,391.5 C97.4,391.9 99.4,391.7 101.5,390.9 C103.6,390.2 105.6,387.5 107.7,387.1 C109.7,386.7 112.4,388.3 113.9,388.4 C115.4,388.5 116.2,390.2 116.4,387.7 C116.6,385.3 115.5,378.3 115.2,373.7 C114.9,369.2 114.9,365.2 114.5,360.4 C114.0,355.6 113.1,348.9 112.5,345.0 C111.9,341.1 111.3,338.7 110.9,336.8 C110.4,334.9 110.7,334.3 109.6,333.7 Z" fill="#c4bbd6" filter="url(#bb2)"/>
<ellipse cx="94" cy="363" rx="15" ry="27" transform="rotate(-10 94 363)" fill="#dad6df" opacity="0.97" filter="url(#bb2)"/><ellipse cx="112" cy="345" rx="6" ry="8" transform="rotate(0 112 345)" fill="#d8d4dc" opacity="0.7" filter="url(#bb2)"/><ellipse cx="111" cy="372" rx="4" ry="16" transform="rotate(0 111 372)" fill="#ab9ecf" opacity="0.6" filter="url(#bb2)"/>
<rect x="66.5" y="323.9" width="54.400000000000006" height="74.80000000000001" filter="url(#texd)" opacity="0.4"/>
<rect x="66.5" y="323.9" width="54.400000000000006" height="74.80000000000001" filter="url(#texl)" opacity="0.22"/>
<ellipse cx="81.5" cy="350" rx="12" ry="19" transform="rotate(18 81.5 350)" fill="#e0e0dc" opacity="0.95" filter="url(#bb2)"/>

<path d="M110.4,326.2 C109.0,325.5 106.6,325.5 103.4,325.9 C100.2,326.3 94.6,327.1 91.0,328.5 C87.4,329.9 84.3,332.1 81.7,334.0 C79.1,335.9 77.5,337.6 75.5,340.2 C73.5,342.8 71.2,346.4 70.0,349.5 C68.8,352.6 68.2,355.2 68.5,358.8 C68.8,362.4 70.2,367.1 71.6,371.2 C73.0,375.3 74.8,380.0 77.0,383.6 C79.2,387.2 82.2,390.7 84.8,392.9 C87.4,395.1 90.0,396.2 92.6,396.7 C95.2,397.2 97.7,396.9 100.3,396.0 C102.9,395.1 105.4,391.8 108.0,391.3 C110.6,390.8 114.0,392.8 115.8,392.9 C117.6,393.0 118.6,395.1 118.9,392.1 C119.2,389.1 117.8,380.6 117.4,375.0 C117.0,369.4 117.1,364.6 116.5,358.8 C115.9,353.0 114.8,344.8 114.0,340.0 C113.2,335.2 112.6,332.3 112.0,330.0 C111.4,327.7 111.8,326.9 110.4,326.2 Z" fill="none" stroke="url(#eg1)" stroke-width="2.6"/>
</g>
<path d="M107,342.5 C102,341 97.5,343.5 98.5,348.5 C99.5,352.5 97.5,355 99.5,358" fill="none" stroke="#3a2a8c" stroke-width="1.2" opacity="1" stroke-linecap="round"/><path d="M101.5,346 L105.5,348 L102.5,351.5" fill="none" stroke="#3a2a8c" stroke-width="0.9" opacity="1" stroke-linecap="round"/>
</g>
<clipPath id="bc2"><path d="M115.8,327.0 C117.0,324.8 121.8,326.5 125.0,326.5 C128.2,326.5 131.7,326.6 135.0,327.0 C138.3,327.4 142.0,328.0 145.0,329.0 C148.0,330.0 150.7,331.2 153.0,333.0 C155.3,334.8 157.4,337.5 159.0,340.0 C160.6,342.5 161.7,345.0 162.5,348.0 C163.3,351.0 163.6,354.7 163.7,358.0 C163.8,361.3 163.6,365.0 163.0,368.0 C162.4,371.0 161.3,373.5 160.0,376.0 C158.7,378.5 157.0,381.0 155.0,383.0 C153.0,385.0 150.5,386.8 148.0,388.0 C145.5,389.2 142.7,390.2 140.0,390.5 C137.3,390.8 134.3,389.8 132.0,390.0 C129.7,390.2 127.7,391.1 126.0,391.5 C124.3,391.9 122.9,395.2 122.0,392.5 C121.1,389.8 120.9,380.6 120.5,375.0 C120.1,369.4 120.1,364.6 119.7,358.8 C119.3,353.0 118.7,345.3 118.0,340.0 C117.3,334.7 114.6,329.2 115.8,327.0 Z"/></clipPath>
<linearGradient id="eg2" gradientUnits="userSpaceOnUse" x1="0" y1="326.5" x2="0" y2="392.5"><stop offset="0" stop-color="#7a62b8" stop-opacity="0.12"/><stop offset="0.5" stop-color="#6a50ae" stop-opacity="0.18"/><stop offset="0.8" stop-color="#4a3098" stop-opacity="0.7"/><stop offset="1" stop-color="#3c2590" stop-opacity="1"/></linearGradient>
<g filter="url(#rough)"><g clip-path="url(#bc2)">
<path d="M115.8,327.0 C117.0,324.8 121.8,326.5 125.0,326.5 C128.2,326.5 131.7,326.6 135.0,327.0 C138.3,327.4 142.0,328.0 145.0,329.0 C148.0,330.0 150.7,331.2 153.0,333.0 C155.3,334.8 157.4,337.5 159.0,340.0 C160.6,342.5 161.7,345.0 162.5,348.0 C163.3,351.0 163.6,354.7 163.7,358.0 C163.8,361.3 163.6,365.0 163.0,368.0 C162.4,371.0 161.3,373.5 160.0,376.0 C158.7,378.5 157.0,381.0 155.0,383.0 C153.0,385.0 150.5,386.8 148.0,388.0 C145.5,389.2 142.7,390.2 140.0,390.5 C137.3,390.8 134.3,389.8 132.0,390.0 C129.7,390.2 127.7,391.1 126.0,391.5 C124.3,391.9 122.9,395.2 122.0,392.5 C121.1,389.8 120.9,380.6 120.5,375.0 C120.1,369.4 120.1,364.6 119.7,358.8 C119.3,353.0 118.7,345.3 118.0,340.0 C117.3,334.7 114.6,329.2 115.8,327.0 Z" fill="#9882c6"/>
<path d="M117.5,329.6 C118.6,327.6 123.1,329.2 126.1,329.2 C129.0,329.2 132.3,329.3 135.4,329.6 C138.5,330.0 141.9,330.6 144.7,331.5 C147.5,332.4 149.9,333.5 152.1,335.2 C154.3,336.9 156.2,339.3 157.7,341.6 C159.2,343.9 160.2,346.2 160.9,349.0 C161.7,351.7 162.0,355.1 162.1,358.2 C162.1,361.2 162.0,364.6 161.4,367.4 C160.8,370.1 159.9,372.4 158.6,374.7 C157.4,377.0 155.8,379.3 154.0,381.2 C152.1,383.0 149.8,384.6 147.5,385.8 C145.1,386.9 142.5,387.8 140.0,388.1 C137.5,388.4 134.7,387.5 132.6,387.6 C130.4,387.8 128.5,388.6 127.0,389.0 C125.4,389.4 124.1,392.4 123.3,389.9 C122.4,387.4 122.2,379.0 121.9,373.8 C121.5,368.6 121.5,364.3 121.1,358.9 C120.7,353.5 120.2,346.5 119.6,341.6 C118.9,336.7 116.4,331.7 117.5,329.6 Z" fill="none" stroke="#ab9dd2" stroke-width="2" filter="url(#bb1)"/>
<path d="M120.7,334.0 C121.6,332.1 125.5,333.5 128.0,333.5 C130.6,333.5 133.4,333.6 136.0,334.0 C138.7,334.3 141.6,334.8 144.0,335.6 C146.4,336.4 148.6,337.4 150.4,338.9 C152.3,340.4 154.0,342.6 155.2,344.6 C156.5,346.7 157.4,348.7 158.0,351.2 C158.7,353.6 158.9,356.6 159.0,359.4 C159.1,362.1 158.9,365.1 158.4,367.6 C157.9,370.0 157.1,372.1 156.0,374.1 C155.0,376.2 153.6,378.2 152.0,379.9 C150.4,381.5 148.4,383.0 146.4,384.0 C144.4,385.0 142.2,385.8 140.0,386.0 C137.9,386.3 135.5,385.5 133.6,385.6 C131.8,385.8 130.2,386.5 128.8,386.8 C127.5,387.2 126.4,389.9 125.6,387.7 C124.9,385.4 124.7,377.9 124.4,373.3 C124.1,368.7 124.1,364.8 123.8,360.0 C123.5,355.2 123.0,349.0 122.4,344.6 C121.9,340.3 119.7,335.8 120.7,334.0 Z" fill="#c4bbd6" filter="url(#bb2)"/>
<ellipse cx="136" cy="361" rx="15" ry="25" transform="rotate(0 136 361)" fill="#dad6df" opacity="0.95" filter="url(#bb2)"/><ellipse cx="127" cy="345" rx="6" ry="8" transform="rotate(0 127 345)" fill="#d8d4dc" opacity="0.7" filter="url(#bb2)"/>
<rect x="113.8" y="324.5" width="51.89999999999999" height="70.0" filter="url(#texd)" opacity="0.4"/>
<rect x="113.8" y="324.5" width="51.89999999999999" height="70.0" filter="url(#texl)" opacity="0.22"/>

<path d="M115.8,327.0 C117.0,324.8 121.8,326.5 125.0,326.5 C128.2,326.5 131.7,326.6 135.0,327.0 C138.3,327.4 142.0,328.0 145.0,329.0 C148.0,330.0 150.7,331.2 153.0,333.0 C155.3,334.8 157.4,337.5 159.0,340.0 C160.6,342.5 161.7,345.0 162.5,348.0 C163.3,351.0 163.6,354.7 163.7,358.0 C163.8,361.3 163.6,365.0 163.0,368.0 C162.4,371.0 161.3,373.5 160.0,376.0 C158.7,378.5 157.0,381.0 155.0,383.0 C153.0,385.0 150.5,386.8 148.0,388.0 C145.5,389.2 142.7,390.2 140.0,390.5 C137.3,390.8 134.3,389.8 132.0,390.0 C129.7,390.2 127.7,391.1 126.0,391.5 C124.3,391.9 122.9,395.2 122.0,392.5 C121.1,389.8 120.9,380.6 120.5,375.0 C120.1,369.4 120.1,364.6 119.7,358.8 C119.3,353.0 118.7,345.3 118.0,340.0 C117.3,334.7 114.6,329.2 115.8,327.0 Z" fill="none" stroke="url(#eg2)" stroke-width="2.6"/>
</g>
<path d="M123,342.5 C128,341 132.5,343.5 131.5,348.5 C130.5,352.5 132.5,355 130.5,358" fill="none" stroke="#3a2a8c" stroke-width="1.2" opacity="1" stroke-linecap="round"/><path d="M128.5,346 L124.5,348 L127.5,351.5" fill="none" stroke="#3a2a8c" stroke-width="0.9" opacity="1" stroke-linecap="round"/>
</g>
<clipPath id="bc3"><path d="M114.3,412.0 C111.6,411.1 103.2,412.0 98.8,412.8 C94.4,413.6 91.3,414.5 87.9,416.6 C84.5,418.7 81.0,421.5 78.6,425.2 C76.1,428.9 73.7,433.8 73.2,439.0 C72.7,444.2 74.1,451.5 75.5,456.2 C76.9,460.9 79.4,463.5 81.7,467.0 C84.0,470.5 87.2,474.9 89.5,477.1 C91.8,479.3 93.4,480.1 95.7,480.2 C98.0,480.3 100.8,478.7 103.4,477.9 C106.0,477.1 108.1,475.6 111.2,475.5 C114.3,475.4 120.6,479.7 122.0,477.1 C123.4,474.5 120.3,467.0 119.5,460.0 C118.7,453.0 117.8,442.0 117.0,435.0 C116.2,428.0 115.5,421.8 115.0,418.0 C114.5,414.2 117.0,412.9 114.3,412.0 Z"/></clipPath>
<linearGradient id="eg3" gradientUnits="userSpaceOnUse" x1="0" y1="412" x2="0" y2="480.2"><stop offset="0" stop-color="#7a62b8" stop-opacity="0.12"/><stop offset="0.5" stop-color="#6a50ae" stop-opacity="0.18"/><stop offset="0.8" stop-color="#4a3098" stop-opacity="0.7"/><stop offset="1" stop-color="#3c2590" stop-opacity="1"/></linearGradient>
<g filter="url(#rough)"><g clip-path="url(#bc3)">
<path d="M114.3,412.0 C111.6,411.1 103.2,412.0 98.8,412.8 C94.4,413.6 91.3,414.5 87.9,416.6 C84.5,418.7 81.0,421.5 78.6,425.2 C76.1,428.9 73.7,433.8 73.2,439.0 C72.7,444.2 74.1,451.5 75.5,456.2 C76.9,460.9 79.4,463.5 81.7,467.0 C84.0,470.5 87.2,474.9 89.5,477.1 C91.8,479.3 93.4,480.1 95.7,480.2 C98.0,480.3 100.8,478.7 103.4,477.9 C106.0,477.1 108.1,475.6 111.2,475.5 C114.3,475.4 120.6,479.7 122.0,477.1 C123.4,474.5 120.3,467.0 119.5,460.0 C118.7,453.0 117.8,442.0 117.0,435.0 C116.2,428.0 115.5,421.8 115.0,418.0 C114.5,414.2 117.0,412.9 114.3,412.0 Z" fill="#9882c6"/>
<path d="M113.2,414.9 C110.7,414.1 102.9,415.0 98.8,415.7 C94.7,416.4 91.8,417.3 88.7,419.2 C85.5,421.1 82.3,423.6 80.0,427.1 C77.7,430.5 75.5,435.0 75.0,439.8 C74.5,444.5 75.8,451.3 77.1,455.6 C78.5,459.9 80.7,462.3 82.9,465.5 C85.1,468.7 88.0,472.8 90.2,474.8 C92.3,476.8 93.8,477.6 95.9,477.7 C98.1,477.8 100.7,476.3 103.1,475.6 C105.5,474.8 107.5,473.5 110.3,473.4 C113.2,473.2 119.1,477.2 120.4,474.8 C121.7,472.4 118.8,465.5 118.1,459.1 C117.3,452.6 116.4,442.5 115.7,436.1 C115.0,429.7 114.3,424.0 113.9,420.5 C113.5,416.9 115.7,415.7 113.2,414.9 Z" fill="none" stroke="#ab9dd2" stroke-width="2" filter="url(#bb1)"/>
<path d="M113.2,419.6 C111.1,418.9 104.3,419.6 100.8,420.3 C97.3,420.9 94.8,421.7 92.1,423.4 C89.4,425.1 86.6,427.4 84.7,430.4 C82.7,433.5 80.8,437.5 80.3,441.7 C79.9,446.0 81.0,452.0 82.2,455.8 C83.3,459.7 85.3,461.8 87.1,464.7 C89.0,467.6 91.5,471.2 93.4,473.0 C95.2,474.8 96.5,475.4 98.3,475.5 C100.2,475.6 102.4,474.3 104.5,473.6 C106.6,473.0 108.3,471.8 110.7,471.7 C113.2,471.6 118.3,475.1 119.4,473.0 C120.5,470.9 118.0,464.7 117.4,459.0 C116.7,453.2 116.0,444.2 115.4,438.5 C114.8,432.7 114.1,427.7 113.8,424.5 C113.4,421.4 115.4,420.3 113.2,419.6 Z" fill="#c4bbd6" filter="url(#bb2)"/>
<ellipse cx="97" cy="447" rx="15" ry="27" transform="rotate(-10 97 447)" fill="#dad6df" opacity="0.97" filter="url(#bb2)"/><ellipse cx="113" cy="428" rx="5" ry="7" transform="rotate(0 113 428)" fill="#d8d4dc" opacity="0.7" filter="url(#bb2)"/><ellipse cx="116" cy="455" rx="4" ry="16" transform="rotate(0 116 455)" fill="#ab9ecf" opacity="0.6" filter="url(#bb2)"/>
<rect x="71.2" y="410" width="52.8" height="72.19999999999999" filter="url(#texd)" opacity="0.4"/>
<rect x="71.2" y="410" width="52.8" height="72.19999999999999" filter="url(#texl)" opacity="0.22"/>
<ellipse cx="84.5" cy="436" rx="12" ry="19" transform="rotate(14 84.5 436)" fill="#e0e0dc" opacity="0.95" filter="url(#bb2)"/>

<path d="M114.3,412.0 C111.6,411.1 103.2,412.0 98.8,412.8 C94.4,413.6 91.3,414.5 87.9,416.6 C84.5,418.7 81.0,421.5 78.6,425.2 C76.1,428.9 73.7,433.8 73.2,439.0 C72.7,444.2 74.1,451.5 75.5,456.2 C76.9,460.9 79.4,463.5 81.7,467.0 C84.0,470.5 87.2,474.9 89.5,477.1 C91.8,479.3 93.4,480.1 95.7,480.2 C98.0,480.3 100.8,478.7 103.4,477.9 C106.0,477.1 108.1,475.6 111.2,475.5 C114.3,475.4 120.6,479.7 122.0,477.1 C123.4,474.5 120.3,467.0 119.5,460.0 C118.7,453.0 117.8,442.0 117.0,435.0 C116.2,428.0 115.5,421.8 115.0,418.0 C114.5,414.2 117.0,412.9 114.3,412.0 Z" fill="none" stroke="url(#eg3)" stroke-width="2.6"/>
</g>
<path d="M111,428.5 C107,427.5 104.5,430 105.5,434 C106.5,437.5 104,440 105,442" fill="none" stroke="#3a2a8c" stroke-width="1.2" opacity="1" stroke-linecap="round"/><path d="M107,431 L110,433.5 L107.5,436" fill="none" stroke="#3a2a8c" stroke-width="0.9" opacity="1" stroke-linecap="round"/>
</g>
<clipPath id="bc4"><path d="M121.7,411.2 C123.0,410.0 125.9,410.3 130.0,410.8 C134.1,411.3 141.2,411.7 146.5,414.3 C151.8,416.9 158.1,421.8 162.0,426.7 C165.9,431.6 169.0,438.4 169.8,443.8 C170.6,449.2 168.0,454.9 166.7,459.3 C165.4,463.7 164.6,467.7 162.0,470.0 C159.4,472.3 153.8,473.2 151.0,473.2 C148.2,473.2 147.3,469.7 145.0,470.0 C142.7,470.3 139.5,473.5 137.2,474.8 C134.9,476.1 132.6,477.4 131.0,477.9 C129.4,478.4 128.7,480.9 127.9,477.9 C127.1,474.9 126.7,467.1 126.0,460.0 C125.3,452.9 124.6,442.0 124.0,435.0 C123.4,428.0 122.7,422.0 122.3,418.0 C121.9,414.0 120.4,412.4 121.7,411.2 Z"/></clipPath>
<linearGradient id="eg4" gradientUnits="userSpaceOnUse" x1="0" y1="410.8" x2="0" y2="477.9"><stop offset="0" stop-color="#7a62b8" stop-opacity="0.12"/><stop offset="0.5" stop-color="#6a50ae" stop-opacity="0.18"/><stop offset="0.8" stop-color="#4a3098" stop-opacity="0.7"/><stop offset="1" stop-color="#3c2590" stop-opacity="1"/></linearGradient>
<g filter="url(#rough)"><g clip-path="url(#bc4)">
<path d="M121.7,411.2 C123.0,410.0 125.9,410.3 130.0,410.8 C134.1,411.3 141.2,411.7 146.5,414.3 C151.8,416.9 158.1,421.8 162.0,426.7 C165.9,431.6 169.0,438.4 169.8,443.8 C170.6,449.2 168.0,454.9 166.7,459.3 C165.4,463.7 164.6,467.7 162.0,470.0 C159.4,472.3 153.8,473.2 151.0,473.2 C148.2,473.2 147.3,469.7 145.0,470.0 C142.7,470.3 139.5,473.5 137.2,474.8 C134.9,476.1 132.6,477.4 131.0,477.9 C129.4,478.4 128.7,480.9 127.9,477.9 C127.1,474.9 126.7,467.1 126.0,460.0 C125.3,452.9 124.6,442.0 124.0,435.0 C123.4,428.0 122.7,422.0 122.3,418.0 C121.9,414.0 120.4,412.4 121.7,411.2 Z" fill="#9882c6"/>
<path d="M123.1,414.2 C124.3,413.1 127.0,413.3 130.8,413.8 C134.7,414.3 141.2,414.6 146.2,417.0 C151.1,419.4 157.0,423.9 160.6,428.4 C164.2,432.9 167.1,439.2 167.8,444.2 C168.6,449.2 166.1,454.4 164.9,458.4 C163.7,462.4 163.0,466.1 160.6,468.3 C158.1,470.4 153.0,471.2 150.3,471.2 C147.7,471.2 146.9,468.0 144.8,468.3 C142.6,468.5 139.7,471.5 137.5,472.7 C135.3,473.9 133.2,475.0 131.7,475.5 C130.3,476.0 129.6,478.3 128.9,475.5 C128.1,472.8 127.7,465.6 127.1,459.1 C126.5,452.5 125.8,442.5 125.2,436.1 C124.7,429.6 124.0,424.1 123.6,420.4 C123.3,416.8 121.9,415.3 123.1,414.2 Z" fill="none" stroke="#ab9dd2" stroke-width="2" filter="url(#bb1)"/>
<path d="M125.7,418.9 C126.7,417.9 129.0,418.1 132.3,418.5 C135.6,419.0 141.2,419.2 145.5,421.4 C149.8,423.6 154.8,427.5 157.9,431.6 C161.0,435.6 163.5,441.1 164.1,445.6 C164.8,450.0 162.7,454.7 161.7,458.3 C160.6,461.9 160.0,465.2 157.9,467.1 C155.8,469.0 151.4,469.7 149.1,469.7 C146.8,469.7 146.1,466.9 144.3,467.1 C142.5,467.3 139.9,469.9 138.1,471.0 C136.2,472.1 134.3,473.1 133.1,473.6 C131.9,474.0 131.3,476.0 130.6,473.6 C130.0,471.1 129.6,464.7 129.1,458.9 C128.6,453.0 128.0,444.1 127.5,438.4 C127.0,432.6 126.5,427.7 126.1,424.4 C125.8,421.2 124.6,419.8 125.7,418.9 Z" fill="#c4bbd6" filter="url(#bb2)"/>
<ellipse cx="141" cy="445" rx="15" ry="25" transform="rotate(0 141 445)" fill="#dad6df" opacity="0.95" filter="url(#bb2)"/><ellipse cx="132" cy="428" rx="5" ry="7" transform="rotate(0 132 428)" fill="#d8d4dc" opacity="0.7" filter="url(#bb2)"/>
<rect x="119.7" y="408.8" width="52.10000000000001" height="71.09999999999997" filter="url(#texd)" opacity="0.4"/>
<rect x="119.7" y="408.8" width="52.10000000000001" height="71.09999999999997" filter="url(#texl)" opacity="0.22"/>

<path d="M121.7,411.2 C123.0,410.0 125.9,410.3 130.0,410.8 C134.1,411.3 141.2,411.7 146.5,414.3 C151.8,416.9 158.1,421.8 162.0,426.7 C165.9,431.6 169.0,438.4 169.8,443.8 C170.6,449.2 168.0,454.9 166.7,459.3 C165.4,463.7 164.6,467.7 162.0,470.0 C159.4,472.3 153.8,473.2 151.0,473.2 C148.2,473.2 147.3,469.7 145.0,470.0 C142.7,470.3 139.5,473.5 137.2,474.8 C134.9,476.1 132.6,477.4 131.0,477.9 C129.4,478.4 128.7,480.9 127.9,477.9 C127.1,474.9 126.7,467.1 126.0,460.0 C125.3,452.9 124.6,442.0 124.0,435.0 C123.4,428.0 122.7,422.0 122.3,418.0 C121.9,414.0 120.4,412.4 121.7,411.2 Z" fill="none" stroke="url(#eg4)" stroke-width="2.6"/>
</g>
<path d="M129,428.5 C133.5,428 136,431 134.5,435 C133.5,438.5 136,440 132,442" fill="none" stroke="#3a2a8c" stroke-width="1.2" opacity="1" stroke-linecap="round"/><path d="M133,431 L130,433.5 L132.5,436" fill="none" stroke="#3a2a8c" stroke-width="0.9" opacity="1" stroke-linecap="round"/>
</g>
<clipPath id="bc5"><path d="M245.4,340.0 C245.9,339.8 246.3,337.4 247.1,335.8 C247.9,334.2 248.5,331.7 250.3,330.5 C252.1,329.3 254.7,329.0 257.7,328.8 C260.7,328.6 264.8,328.6 268.3,329.4 C271.8,330.2 275.7,331.7 278.9,333.6 C282.1,335.5 285.0,338.4 287.3,341.0 C289.6,343.6 291.4,346.7 292.6,349.5 C293.8,352.3 294.3,355.6 294.7,358.0 C295.1,360.4 295.0,361.2 294.8,364.0 C294.6,366.8 294.6,371.2 293.7,374.8 C292.8,378.4 291.0,382.6 289.4,385.4 C287.8,388.2 286.2,390.1 284.1,391.7 C282.0,393.3 279.0,394.5 276.7,394.9 C274.4,395.2 272.5,394.5 270.4,393.8 C268.3,393.1 265.8,391.8 264.0,390.7 C262.2,389.6 261.6,387.7 259.8,387.5 C258.1,387.3 255.4,388.6 253.5,389.6 C251.6,390.7 249.8,393.3 248.2,393.8 C246.6,394.3 245.4,393.5 243.9,392.8 C242.4,392.1 240.6,390.2 239.0,389.5 C237.4,388.8 236.4,388.8 234.4,388.6 C232.4,388.5 229.1,387.7 227.0,388.6 C224.9,389.5 224.0,392.8 221.7,393.8 C219.4,394.9 215.8,395.2 213.3,394.9 C210.8,394.5 209.0,393.6 206.9,391.7 C204.8,389.8 202.4,386.5 200.6,383.3 C198.8,380.1 197.2,376.1 196.3,372.7 C195.4,369.3 195.4,366.2 195.2,363.0 C195.0,359.8 194.8,356.8 195.3,353.7 C195.9,350.6 197.3,346.7 198.5,344.2 C199.7,341.7 200.9,340.5 202.7,338.9 C204.4,337.3 206.5,335.9 209.0,334.7 C211.5,333.5 214.7,332.4 217.5,331.5 C220.3,330.6 223.2,329.8 226.0,329.4 C228.8,329.0 231.9,329.0 234.4,329.4 C236.9,329.8 239.2,330.3 240.8,331.5 C242.4,332.7 243.2,335.4 244.0,336.8 C244.8,338.2 244.9,340.2 245.4,340.0 Z"/></clipPath>
<linearGradient id="eg5" gradientUnits="userSpaceOnUse" x1="0" y1="328.8" x2="0" y2="394.9"><stop offset="0" stop-color="#7a62b8" stop-opacity="0.12"/><stop offset="0.5" stop-color="#6a50ae" stop-opacity="0.18"/><stop offset="0.8" stop-color="#4a3098" stop-opacity="0.7"/><stop offset="1" stop-color="#3c2590" stop-opacity="1"/></linearGradient>
<g filter="url(#rough)"><g clip-path="url(#bc5)">
<path d="M245.4,340.0 C245.9,339.8 246.3,337.4 247.1,335.8 C247.9,334.2 248.5,331.7 250.3,330.5 C252.1,329.3 254.7,329.0 257.7,328.8 C260.7,328.6 264.8,328.6 268.3,329.4 C271.8,330.2 275.7,331.7 278.9,333.6 C282.1,335.5 285.0,338.4 287.3,341.0 C289.6,343.6 291.4,346.7 292.6,349.5 C293.8,352.3 294.3,355.6 294.7,358.0 C295.1,360.4 295.0,361.2 294.8,364.0 C294.6,366.8 294.6,371.2 293.7,374.8 C292.8,378.4 291.0,382.6 289.4,385.4 C287.8,388.2 286.2,390.1 284.1,391.7 C282.0,393.3 279.0,394.5 276.7,394.9 C274.4,395.2 272.5,394.5 270.4,393.8 C268.3,393.1 265.8,391.8 264.0,390.7 C262.2,389.6 261.6,387.7 259.8,387.5 C258.1,387.3 255.4,388.6 253.5,389.6 C251.6,390.7 249.8,393.3 248.2,393.8 C246.6,394.3 245.4,393.5 243.9,392.8 C242.4,392.1 240.6,390.2 239.0,389.5 C237.4,388.8 236.4,388.8 234.4,388.6 C232.4,388.5 229.1,387.7 227.0,388.6 C224.9,389.5 224.0,392.8 221.7,393.8 C219.4,394.9 215.8,395.2 213.3,394.9 C210.8,394.5 209.0,393.6 206.9,391.7 C204.8,389.8 202.4,386.5 200.6,383.3 C198.8,380.1 197.2,376.1 196.3,372.7 C195.4,369.3 195.4,366.2 195.2,363.0 C195.0,359.8 194.8,356.8 195.3,353.7 C195.9,350.6 197.3,346.7 198.5,344.2 C199.7,341.7 200.9,340.5 202.7,338.9 C204.4,337.3 206.5,335.9 209.0,334.7 C211.5,333.5 214.7,332.4 217.5,331.5 C220.3,330.6 223.2,329.8 226.0,329.4 C228.8,329.0 231.9,329.0 234.4,329.4 C236.9,329.8 239.2,330.3 240.8,331.5 C242.4,332.7 243.2,335.4 244.0,336.8 C244.8,338.2 244.9,340.2 245.4,340.0 Z" fill="#9882c6"/>
<path d="M245.4,341.9 C245.8,341.7 246.2,339.4 246.9,338.0 C247.7,336.5 248.3,334.2 249.9,333.1 C251.6,332.0 254.0,331.7 256.8,331.6 C259.6,331.4 263.4,331.4 266.7,332.1 C269.9,332.8 273.6,334.2 276.5,336.0 C279.5,337.7 282.2,340.3 284.3,342.8 C286.5,345.2 288.1,348.0 289.3,350.6 C290.4,353.2 290.9,356.2 291.2,358.4 C291.5,360.6 291.5,361.4 291.3,363.9 C291.1,366.5 291.1,370.6 290.3,373.9 C289.4,377.2 287.8,381.0 286.3,383.6 C284.8,386.2 283.3,388.0 281.4,389.4 C279.4,390.9 276.6,392.0 274.5,392.4 C272.3,392.7 270.6,392.0 268.6,391.4 C266.6,390.7 264.3,389.5 262.7,388.5 C261.0,387.5 260.4,385.7 258.8,385.6 C257.1,385.4 254.7,386.5 252.9,387.5 C251.1,388.5 249.5,390.9 248.0,391.4 C246.5,391.8 245.4,391.1 244.0,390.4 C242.5,389.8 240.9,388.0 239.4,387.4 C237.9,386.8 237.0,386.7 235.1,386.6 C233.3,386.4 230.2,385.8 228.2,386.6 C226.3,387.4 225.4,390.4 223.3,391.4 C221.2,392.3 217.8,392.7 215.5,392.4 C213.2,392.0 211.5,391.2 209.6,389.4 C207.6,387.6 205.3,384.6 203.7,381.7 C202.1,378.8 200.5,375.1 199.7,371.9 C198.9,368.8 198.8,365.9 198.7,363.0 C198.5,360.1 198.3,357.3 198.8,354.5 C199.3,351.6 200.6,348.0 201.7,345.7 C202.9,343.5 204.0,342.3 205.6,340.8 C207.3,339.4 209.2,338.1 211.5,337.0 C213.8,335.8 216.8,334.8 219.4,334.0 C222.0,333.2 224.7,332.4 227.3,332.1 C229.9,331.8 232.8,331.8 235.1,332.1 C237.4,332.4 239.6,332.9 241.1,334.0 C242.6,335.2 243.3,337.6 244.1,338.9 C244.8,340.2 244.9,342.0 245.4,341.9 Z" fill="none" stroke="#ab9dd2" stroke-width="2" filter="url(#bb1)"/>
<path d="M245.2,348.0 C245.6,347.9 245.8,346.1 246.4,344.9 C246.9,343.8 247.3,341.9 248.5,341.0 C249.7,340.1 251.5,339.9 253.6,339.7 C255.6,339.6 258.4,339.6 260.8,340.2 C263.2,340.8 265.8,341.9 268.0,343.3 C270.1,344.7 272.2,346.8 273.7,348.8 C275.3,350.7 276.5,353.0 277.3,355.1 C278.2,357.2 278.5,359.6 278.7,361.4 C279.0,363.1 278.9,363.7 278.8,365.8 C278.7,367.9 278.7,371.1 278.1,373.8 C277.4,376.4 276.2,379.5 275.1,381.6 C274.0,383.7 273.0,385.1 271.5,386.3 C270.1,387.5 268.1,388.4 266.5,388.7 C264.9,388.9 263.7,388.4 262.2,387.8 C260.8,387.3 259.1,386.3 257.9,385.6 C256.7,384.8 256.2,383.3 255.0,383.2 C253.8,383.0 252.0,384.0 250.7,384.7 C249.4,385.5 248.2,387.5 247.1,387.8 C246.0,388.2 245.2,387.6 244.2,387.1 C243.2,386.6 241.9,385.2 240.9,384.7 C239.8,384.1 239.1,384.1 237.7,384.0 C236.4,383.9 234.1,383.4 232.7,384.0 C231.3,384.6 230.7,387.1 229.1,387.8 C227.5,388.6 225.1,388.9 223.4,388.7 C221.7,388.4 220.5,387.7 219.0,386.3 C217.6,384.9 216.0,382.4 214.8,380.1 C213.6,377.7 212.4,374.7 211.8,372.2 C211.2,369.7 211.2,367.4 211.1,365.1 C211.0,362.7 210.8,360.5 211.1,358.2 C211.5,355.9 212.5,353.0 213.3,351.1 C214.2,349.3 215.0,348.4 216.2,347.2 C217.4,346.0 218.8,345.0 220.5,344.1 C222.1,343.2 224.3,342.4 226.2,341.7 C228.2,341.1 230.1,340.4 232.0,340.2 C233.9,339.9 236.1,339.9 237.7,340.2 C239.4,340.4 241.0,340.8 242.1,341.7 C243.2,342.7 243.7,344.6 244.3,345.7 C244.8,346.7 244.9,348.2 245.2,348.0 Z" fill="#ab9ecf" filter="url(#bb2)"/>
<path d="M213,345 C213,360 218,375 229,385 C237,391 253,391 261,385 C271,375 274,360 271,346" fill="none" stroke="#d8d4dc" stroke-width="9" stroke-linecap="round" opacity="0.85" filter="url(#bb15)"/><path d="M222,340.5 C235,337 255,337 268,340.5" fill="none" stroke="#d8d4dc" stroke-width="4" stroke-linecap="round" opacity="0.6" filter="url(#bb15)"/>
<rect x="193.2" y="326.8" width="103.60000000000002" height="70.09999999999997" filter="url(#texd)" opacity="0.4"/>
<rect x="193.2" y="326.8" width="103.60000000000002" height="70.09999999999997" filter="url(#texl)" opacity="0.22"/>
<ellipse cx="206.5" cy="347.5" rx="11" ry="15" transform="rotate(-30 206.5 347.5)" fill="#d9d8d4" opacity="0.9" filter="url(#bb2)"/>

<path d="M245.4,340.0 C245.9,339.8 246.3,337.4 247.1,335.8 C247.9,334.2 248.5,331.7 250.3,330.5 C252.1,329.3 254.7,329.0 257.7,328.8 C260.7,328.6 264.8,328.6 268.3,329.4 C271.8,330.2 275.7,331.7 278.9,333.6 C282.1,335.5 285.0,338.4 287.3,341.0 C289.6,343.6 291.4,346.7 292.6,349.5 C293.8,352.3 294.3,355.6 294.7,358.0 C295.1,360.4 295.0,361.2 294.8,364.0 C294.6,366.8 294.6,371.2 293.7,374.8 C292.8,378.4 291.0,382.6 289.4,385.4 C287.8,388.2 286.2,390.1 284.1,391.7 C282.0,393.3 279.0,394.5 276.7,394.9 C274.4,395.2 272.5,394.5 270.4,393.8 C268.3,393.1 265.8,391.8 264.0,390.7 C262.2,389.6 261.6,387.7 259.8,387.5 C258.1,387.3 255.4,388.6 253.5,389.6 C251.6,390.7 249.8,393.3 248.2,393.8 C246.6,394.3 245.4,393.5 243.9,392.8 C242.4,392.1 240.6,390.2 239.0,389.5 C237.4,388.8 236.4,388.8 234.4,388.6 C232.4,388.5 229.1,387.7 227.0,388.6 C224.9,389.5 224.0,392.8 221.7,393.8 C219.4,394.9 215.8,395.2 213.3,394.9 C210.8,394.5 209.0,393.6 206.9,391.7 C204.8,389.8 202.4,386.5 200.6,383.3 C198.8,380.1 197.2,376.1 196.3,372.7 C195.4,369.3 195.4,366.2 195.2,363.0 C195.0,359.8 194.8,356.8 195.3,353.7 C195.9,350.6 197.3,346.7 198.5,344.2 C199.7,341.7 200.9,340.5 202.7,338.9 C204.4,337.3 206.5,335.9 209.0,334.7 C211.5,333.5 214.7,332.4 217.5,331.5 C220.3,330.6 223.2,329.8 226.0,329.4 C228.8,329.0 231.9,329.0 234.4,329.4 C236.9,329.8 239.2,330.3 240.8,331.5 C242.4,332.7 243.2,335.4 244.0,336.8 C244.8,338.2 244.9,340.2 245.4,340.0 Z" fill="none" stroke="url(#eg5)" stroke-width="2.6"/>
</g>
<ellipse cx="236.8" cy="347.6" rx="8.6" ry="3.6" transform="rotate(18 236.8 347.6)" fill="#d8d2ea" stroke="#3a2a8c" stroke-width="1.3"/><ellipse cx="254.2" cy="347.6" rx="8.6" ry="3.6" transform="rotate(-18 254.2 347.6)" fill="#d8d2ea" stroke="#3a2a8c" stroke-width="1.3"/><path d="M242.2,352.5 L248.6,352.5 L245.4,358.2 Z" fill="#3a2a8c"/><path d="M221.7,351 L218.3,359.6" fill="none" stroke="#4a3a9a" stroke-width="1.0" opacity="1" stroke-linecap="round"/><path d="M267.5,351 L270.5,359" fill="none" stroke="#4a3a9a" stroke-width="1.0" opacity="1" stroke-linecap="round"/>
</g>
<clipPath id="bc6"><path d="M249.2,415.9 C250.1,415.9 249.5,409.7 251.3,408.0 C253.1,406.3 256.6,406.2 259.8,405.9 C263.0,405.6 266.9,405.6 270.4,406.3 C273.9,407.0 277.8,408.2 281.0,410.2 C284.2,412.1 287.1,415.1 289.4,418.0 C291.7,420.9 293.5,424.5 294.7,427.5 C295.9,430.5 296.4,433.6 296.8,436.0 C297.2,438.4 297.0,439.2 296.8,442.0 C296.6,444.8 296.7,449.1 295.8,452.7 C294.9,456.2 293.1,460.5 291.5,463.3 C289.9,466.1 288.4,467.9 286.3,469.6 C284.2,471.3 280.8,472.9 278.9,473.4 C276.9,473.9 276.7,473.4 274.6,472.8 C272.5,472.2 268.7,470.8 266.2,469.6 C263.7,468.4 261.9,465.8 259.8,465.4 C257.7,465.0 255.3,466.5 253.5,467.5 C251.7,468.5 250.5,470.6 249.2,471.3 C247.8,472.0 246.4,472.3 245.4,471.7 C244.4,471.1 244.4,468.4 242.9,467.5 C241.4,466.6 239.2,466.8 236.5,466.4 C233.8,466.0 229.5,464.7 227.0,465.4 C224.5,466.1 224.0,469.5 221.7,470.7 C219.4,471.9 215.8,473.0 213.3,472.8 C210.8,472.6 208.9,471.2 206.9,469.6 C204.9,468.0 203.2,466.1 201.6,463.3 C200.0,460.5 198.4,456.2 197.4,452.7 C196.4,449.1 195.7,444.8 195.3,442.0 C195.0,439.2 195.0,438.8 195.3,436.0 C195.7,433.2 196.4,428.4 197.4,425.4 C198.4,422.4 199.7,420.3 201.6,418.0 C203.5,415.7 206.3,413.3 209.0,411.6 C211.7,409.9 214.7,408.9 217.5,408.0 C220.3,407.1 222.8,406.2 226.0,405.9 C229.2,405.5 233.2,405.5 236.5,405.9 C239.8,406.2 244.0,406.3 246.1,408.0 C248.2,409.7 248.3,415.9 249.2,415.9 Z"/></clipPath>
<linearGradient id="eg6" gradientUnits="userSpaceOnUse" x1="0" y1="405.9" x2="0" y2="473.4"><stop offset="0" stop-color="#7a62b8" stop-opacity="0.12"/><stop offset="0.5" stop-color="#6a50ae" stop-opacity="0.18"/><stop offset="0.8" stop-color="#4a3098" stop-opacity="0.7"/><stop offset="1" stop-color="#3c2590" stop-opacity="1"/></linearGradient>
<g filter="url(#rough)"><g clip-path="url(#bc6)">
<path d="M249.2,415.9 C250.1,415.9 249.5,409.7 251.3,408.0 C253.1,406.3 256.6,406.2 259.8,405.9 C263.0,405.6 266.9,405.6 270.4,406.3 C273.9,407.0 277.8,408.2 281.0,410.2 C284.2,412.1 287.1,415.1 289.4,418.0 C291.7,420.9 293.5,424.5 294.7,427.5 C295.9,430.5 296.4,433.6 296.8,436.0 C297.2,438.4 297.0,439.2 296.8,442.0 C296.6,444.8 296.7,449.1 295.8,452.7 C294.9,456.2 293.1,460.5 291.5,463.3 C289.9,466.1 288.4,467.9 286.3,469.6 C284.2,471.3 280.8,472.9 278.9,473.4 C276.9,473.9 276.7,473.4 274.6,472.8 C272.5,472.2 268.7,470.8 266.2,469.6 C263.7,468.4 261.9,465.8 259.8,465.4 C257.7,465.0 255.3,466.5 253.5,467.5 C251.7,468.5 250.5,470.6 249.2,471.3 C247.8,472.0 246.4,472.3 245.4,471.7 C244.4,471.1 244.4,468.4 242.9,467.5 C241.4,466.6 239.2,466.8 236.5,466.4 C233.8,466.0 229.5,464.7 227.0,465.4 C224.5,466.1 224.0,469.5 221.7,470.7 C219.4,471.9 215.8,473.0 213.3,472.8 C210.8,472.6 208.9,471.2 206.9,469.6 C204.9,468.0 203.2,466.1 201.6,463.3 C200.0,460.5 198.4,456.2 197.4,452.7 C196.4,449.1 195.7,444.8 195.3,442.0 C195.0,439.2 195.0,438.8 195.3,436.0 C195.7,433.2 196.4,428.4 197.4,425.4 C198.4,422.4 199.7,420.3 201.6,418.0 C203.5,415.7 206.3,413.3 209.0,411.6 C211.7,409.9 214.7,408.9 217.5,408.0 C220.3,407.1 222.8,406.2 226.0,405.9 C229.2,405.5 233.2,405.5 236.5,405.9 C239.8,406.2 244.0,406.3 246.1,408.0 C248.2,409.7 248.3,415.9 249.2,415.9 Z" fill="#9882c6"/>
<path d="M249.0,418.0 C249.8,418.0 249.3,412.3 250.9,410.8 C252.6,409.2 255.9,409.1 258.8,408.8 C261.8,408.6 265.4,408.6 268.7,409.2 C272.0,409.9 275.6,411.0 278.6,412.8 C281.5,414.6 284.3,417.3 286.4,420.0 C288.5,422.6 290.2,426.0 291.3,428.7 C292.5,431.5 292.9,434.3 293.3,436.5 C293.6,438.8 293.4,439.5 293.3,442.1 C293.1,444.6 293.1,448.6 292.3,451.9 C291.5,455.2 289.8,459.1 288.3,461.7 C286.9,464.2 285.4,465.9 283.5,467.4 C281.5,469.0 278.4,470.5 276.6,470.9 C274.8,471.4 274.6,471.0 272.6,470.4 C270.6,469.8 267.1,468.6 264.8,467.4 C262.5,466.3 260.8,463.9 258.8,463.6 C256.9,463.3 254.6,464.6 253.0,465.5 C251.3,466.4 250.2,468.4 249.0,469.0 C247.7,469.7 246.4,470.0 245.5,469.4 C244.5,468.8 244.5,466.3 243.1,465.5 C241.8,464.7 239.6,464.8 237.2,464.5 C234.7,464.2 230.6,462.9 228.3,463.6 C226.0,464.2 225.5,467.3 223.4,468.5 C221.3,469.6 217.9,470.6 215.6,470.4 C213.3,470.2 211.5,468.9 209.6,467.4 C207.8,466.0 206.2,464.2 204.7,461.7 C203.2,459.1 201.8,455.2 200.8,451.9 C199.8,448.6 199.2,444.6 198.9,442.1 C198.5,439.5 198.5,439.1 198.9,436.5 C199.2,434.0 199.8,429.5 200.8,426.8 C201.8,424.0 202.9,422.1 204.7,420.0 C206.5,417.9 209.1,415.6 211.6,414.1 C214.1,412.6 216.9,411.6 219.5,410.8 C222.1,409.9 224.5,409.2 227.4,408.8 C230.4,408.5 234.1,408.5 237.2,408.8 C240.3,409.2 244.1,409.2 246.1,410.8 C248.1,412.3 248.2,418.0 249.0,418.0 Z" fill="none" stroke="#ab9dd2" stroke-width="2" filter="url(#bb1)"/>
<path d="M248.2,424.9 C248.8,424.9 248.5,420.2 249.7,419.0 C250.9,417.8 253.3,417.7 255.4,417.5 C257.6,417.3 260.2,417.2 262.7,417.8 C265.1,418.3 267.7,419.2 269.9,420.6 C272.0,422.1 274.0,424.3 275.6,426.4 C277.1,428.5 278.3,431.2 279.2,433.4 C280.0,435.7 280.4,437.9 280.6,439.7 C280.8,441.5 280.7,442.1 280.6,444.2 C280.5,446.2 280.5,449.5 279.9,452.1 C279.3,454.7 278.1,457.9 277.0,459.9 C275.9,462.0 274.9,463.4 273.5,464.6 C272.0,465.8 269.8,467.0 268.4,467.4 C267.1,467.8 266.9,467.4 265.5,467.0 C264.1,466.5 261.5,465.5 259.8,464.6 C258.1,463.7 256.9,461.8 255.4,461.5 C254.0,461.2 252.4,462.3 251.2,463.0 C250.0,463.8 249.2,465.3 248.2,465.9 C247.3,466.4 246.4,466.6 245.7,466.2 C244.9,465.7 245.0,463.7 244.0,463.0 C242.9,462.4 241.4,462.5 239.6,462.2 C237.8,462.0 234.8,461.0 233.1,461.5 C231.5,462.0 231.1,464.5 229.5,465.4 C228.0,466.3 225.5,467.1 223.8,467.0 C222.1,466.8 220.8,465.8 219.5,464.6 C218.1,463.4 216.9,462.0 215.9,459.9 C214.8,457.9 213.7,454.7 213.0,452.1 C212.3,449.5 211.8,446.2 211.6,444.2 C211.3,442.1 211.3,441.8 211.6,439.7 C211.8,437.7 212.3,434.1 213.0,431.9 C213.7,429.7 214.6,428.1 215.9,426.4 C217.2,424.7 219.1,422.9 220.9,421.7 C222.7,420.4 224.8,419.7 226.7,419.0 C228.6,418.3 230.3,417.7 232.5,417.5 C234.6,417.2 237.3,417.2 239.6,417.5 C241.9,417.7 244.7,417.8 246.1,419.0 C247.6,420.2 247.6,424.9 248.2,424.9 Z" fill="#ab9ecf" filter="url(#bb2)"/>
<path d="M215,422 C215,437 220,452 231,462 C239,468 257,468 265,462 C275,452 278,437 275,423" fill="none" stroke="#d8d4dc" stroke-width="9" stroke-linecap="round" opacity="0.85" filter="url(#bb15)"/><path d="M225,418 C238,414.5 258,414.5 271,418" fill="none" stroke="#d8d4dc" stroke-width="4" stroke-linecap="round" opacity="0.5" filter="url(#bb15)"/>
<rect x="193.3" y="403.9" width="105.5" height="71.5" filter="url(#texd)" opacity="0.4"/>
<rect x="193.3" y="403.9" width="105.5" height="71.5" filter="url(#texl)" opacity="0.22"/>
<ellipse cx="208" cy="420" rx="11" ry="12" transform="rotate(-30 208 420)" fill="#d9d8d4" opacity="0.85" filter="url(#bb2)"/>

<path d="M249.2,415.9 C250.1,415.9 249.5,409.7 251.3,408.0 C253.1,406.3 256.6,406.2 259.8,405.9 C263.0,405.6 266.9,405.6 270.4,406.3 C273.9,407.0 277.8,408.2 281.0,410.2 C284.2,412.1 287.1,415.1 289.4,418.0 C291.7,420.9 293.5,424.5 294.7,427.5 C295.9,430.5 296.4,433.6 296.8,436.0 C297.2,438.4 297.0,439.2 296.8,442.0 C296.6,444.8 296.7,449.1 295.8,452.7 C294.9,456.2 293.1,460.5 291.5,463.3 C289.9,466.1 288.4,467.9 286.3,469.6 C284.2,471.3 280.8,472.9 278.9,473.4 C276.9,473.9 276.7,473.4 274.6,472.8 C272.5,472.2 268.7,470.8 266.2,469.6 C263.7,468.4 261.9,465.8 259.8,465.4 C257.7,465.0 255.3,466.5 253.5,467.5 C251.7,468.5 250.5,470.6 249.2,471.3 C247.8,472.0 246.4,472.3 245.4,471.7 C244.4,471.1 244.4,468.4 242.9,467.5 C241.4,466.6 239.2,466.8 236.5,466.4 C233.8,466.0 229.5,464.7 227.0,465.4 C224.5,466.1 224.0,469.5 221.7,470.7 C219.4,471.9 215.8,473.0 213.3,472.8 C210.8,472.6 208.9,471.2 206.9,469.6 C204.9,468.0 203.2,466.1 201.6,463.3 C200.0,460.5 198.4,456.2 197.4,452.7 C196.4,449.1 195.7,444.8 195.3,442.0 C195.0,439.2 195.0,438.8 195.3,436.0 C195.7,433.2 196.4,428.4 197.4,425.4 C198.4,422.4 199.7,420.3 201.6,418.0 C203.5,415.7 206.3,413.3 209.0,411.6 C211.7,409.9 214.7,408.9 217.5,408.0 C220.3,407.1 222.8,406.2 226.0,405.9 C229.2,405.5 233.2,405.5 236.5,405.9 C239.8,406.2 244.0,406.3 246.1,408.0 C248.2,409.7 248.3,415.9 249.2,415.9 Z" fill="none" stroke="url(#eg6)" stroke-width="2.6"/>
</g>
<ellipse cx="240.6" cy="425.6" rx="8.2" ry="3.7" transform="rotate(18 240.6 425.6)" fill="#d8d2ea" stroke="#3a2a8c" stroke-width="1.3"/><ellipse cx="257.6" cy="425.6" rx="8.2" ry="3.7" transform="rotate(-18 257.6 425.6)" fill="#d8d2ea" stroke="#3a2a8c" stroke-width="1.3"/><path d="M249.1,428 L252.3,431.8 L249.1,435.6 L245.9,431.8 Z" fill="#3a2a8c"/><path d="M223.8,425.4 L220.7,433.8" fill="none" stroke="#4a3a9a" stroke-width="1.1" opacity="1" stroke-linecap="round"/><path d="M269.3,424.3 L271.4,432.8" fill="none" stroke="#4a3a9a" stroke-width="1.1" opacity="1" stroke-linecap="round"/>
</g>
<clipPath id="bc7"><path d="M377.0,336.0 C377.3,335.8 375.9,332.7 378.0,332.3 C380.1,331.9 385.6,333.0 389.7,333.4 C393.8,333.8 398.5,334.0 402.4,334.9 C406.3,335.8 409.8,337.0 413.0,338.7 C416.2,340.4 419.1,342.5 421.4,345.0 C423.7,347.5 425.5,350.0 426.7,353.5 C427.9,357.0 428.4,363.9 428.8,366.0 C429.2,368.1 429.2,364.5 428.8,366.3 C428.4,368.1 427.9,373.7 426.7,376.9 C425.5,380.1 423.3,383.1 421.4,385.4 C419.5,387.7 417.6,389.3 415.1,390.7 C412.6,392.1 409.4,393.4 406.6,393.8 C403.8,394.2 401.0,393.3 398.2,392.8 C395.4,392.3 392.5,391.2 389.7,390.7 C386.9,390.2 383.7,389.8 381.2,389.6 C378.7,389.4 377.2,389.8 374.9,389.6 C372.6,389.4 369.4,388.2 367.5,388.6 C365.6,389.0 365.2,390.8 363.3,391.7 C361.4,392.6 358.5,393.6 355.8,393.8 C353.1,394.0 350.4,393.9 347.4,392.8 C344.4,391.8 340.5,389.4 337.9,387.5 C335.2,385.6 333.1,383.7 331.5,381.2 C329.9,378.7 328.9,375.7 328.3,372.7 C327.7,369.7 327.2,366.2 327.6,363.0 C328.0,359.8 329.3,356.5 330.5,353.5 C331.7,350.5 332.9,347.5 334.7,345.0 C336.4,342.5 338.5,340.4 341.0,338.7 C343.5,337.0 346.3,335.8 349.5,334.9 C352.7,334.0 356.1,333.6 360.1,333.4 C364.2,333.1 371.2,333.4 373.8,333.4 C376.4,333.4 375.5,333.1 376.0,333.5 C376.5,333.9 376.7,336.2 377.0,336.0 Z"/></clipPath>
<linearGradient id="eg7" gradientUnits="userSpaceOnUse" x1="0" y1="332.3" x2="0" y2="393.8"><stop offset="0" stop-color="#7a62b8" stop-opacity="0.12"/><stop offset="0.5" stop-color="#6a50ae" stop-opacity="0.18"/><stop offset="0.8" stop-color="#4a3098" stop-opacity="0.7"/><stop offset="1" stop-color="#3c2590" stop-opacity="1"/></linearGradient>
<g filter="url(#rough)"><g clip-path="url(#bc7)">
<path d="M377.0,336.0 C377.3,335.8 375.9,332.7 378.0,332.3 C380.1,331.9 385.6,333.0 389.7,333.4 C393.8,333.8 398.5,334.0 402.4,334.9 C406.3,335.8 409.8,337.0 413.0,338.7 C416.2,340.4 419.1,342.5 421.4,345.0 C423.7,347.5 425.5,350.0 426.7,353.5 C427.9,357.0 428.4,363.9 428.8,366.0 C429.2,368.1 429.2,364.5 428.8,366.3 C428.4,368.1 427.9,373.7 426.7,376.9 C425.5,380.1 423.3,383.1 421.4,385.4 C419.5,387.7 417.6,389.3 415.1,390.7 C412.6,392.1 409.4,393.4 406.6,393.8 C403.8,394.2 401.0,393.3 398.2,392.8 C395.4,392.3 392.5,391.2 389.7,390.7 C386.9,390.2 383.7,389.8 381.2,389.6 C378.7,389.4 377.2,389.8 374.9,389.6 C372.6,389.4 369.4,388.2 367.5,388.6 C365.6,389.0 365.2,390.8 363.3,391.7 C361.4,392.6 358.5,393.6 355.8,393.8 C353.1,394.0 350.4,393.9 347.4,392.8 C344.4,391.8 340.5,389.4 337.9,387.5 C335.2,385.6 333.1,383.7 331.5,381.2 C329.9,378.7 328.9,375.7 328.3,372.7 C327.7,369.7 327.2,366.2 327.6,363.0 C328.0,359.8 329.3,356.5 330.5,353.5 C331.7,350.5 332.9,347.5 334.7,345.0 C336.4,342.5 338.5,340.4 341.0,338.7 C343.5,337.0 346.3,335.8 349.5,334.9 C352.7,334.0 356.1,333.6 360.1,333.4 C364.2,333.1 371.2,333.4 373.8,333.4 C376.4,333.4 375.5,333.1 376.0,333.5 C376.5,333.9 376.7,336.2 377.0,336.0 Z" fill="#9882c6"/>
<path d="M377.1,338.3 C377.4,338.1 376.1,335.3 378.0,334.9 C380.0,334.5 385.1,335.5 388.9,335.9 C392.7,336.3 397.1,336.4 400.7,337.3 C404.3,338.1 407.6,339.2 410.6,340.8 C413.5,342.3 416.3,344.3 418.4,346.5 C420.5,348.8 422.2,351.1 423.3,354.4 C424.5,357.6 424.9,363.9 425.3,365.9 C425.6,367.8 425.6,364.5 425.3,366.1 C424.9,367.8 424.5,373.0 423.3,375.9 C422.2,378.8 420.2,381.6 418.4,383.7 C416.6,385.8 414.8,387.3 412.5,388.6 C410.2,389.9 407.2,391.1 404.6,391.4 C402.0,391.8 399.4,391.0 396.8,390.5 C394.2,390.0 391.5,389.1 388.9,388.6 C386.3,388.1 383.3,387.7 381.0,387.6 C378.7,387.4 377.3,387.7 375.1,387.6 C373.0,387.4 370.1,386.3 368.3,386.7 C366.5,387.0 366.2,388.7 364.3,389.5 C362.5,390.3 359.8,391.3 357.4,391.4 C354.9,391.6 352.3,391.5 349.6,390.5 C346.8,389.6 343.2,387.4 340.7,385.6 C338.3,383.9 336.3,382.1 334.8,379.9 C333.3,377.6 332.4,374.8 331.8,372.0 C331.2,369.2 330.8,366.1 331.1,363.1 C331.5,360.2 332.7,357.1 333.8,354.4 C334.9,351.6 336.1,348.8 337.7,346.5 C339.4,344.3 341.3,342.3 343.6,340.8 C345.9,339.2 348.6,338.1 351.5,337.3 C354.5,336.4 357.6,336.1 361.4,335.9 C365.1,335.6 371.6,335.9 374.1,335.9 C376.6,335.9 375.7,335.6 376.2,336.0 C376.7,336.4 376.8,338.5 377.1,338.3 Z" fill="none" stroke="#ab9dd2" stroke-width="2" filter="url(#bb1)"/>
<path d="M377.4,346.4 C377.6,346.2 376.6,344.0 378.1,343.6 C379.5,343.3 383.3,344.1 386.0,344.4 C388.8,344.8 392.0,344.9 394.7,345.6 C397.3,346.2 399.7,347.1 401.9,348.4 C404.0,349.6 406.0,351.2 407.6,353.0 C409.1,354.9 410.4,356.7 411.2,359.3 C412.0,361.9 412.4,367.0 412.6,368.6 C412.9,370.2 412.9,367.4 412.6,368.8 C412.4,370.1 412.0,374.3 411.2,376.6 C410.4,379.0 408.9,381.2 407.6,382.9 C406.3,384.6 405.0,385.8 403.3,386.8 C401.6,387.9 399.4,388.9 397.5,389.1 C395.6,389.4 393.7,388.8 391.8,388.4 C389.9,388.0 388.0,387.2 386.0,386.8 C384.1,386.5 381.9,386.2 380.3,386.0 C378.6,385.9 377.5,386.2 376.0,386.0 C374.4,385.9 372.3,385.0 370.9,385.3 C369.6,385.6 369.4,386.9 368.1,387.6 C366.8,388.2 364.8,389.0 363.0,389.1 C361.2,389.3 359.3,389.2 357.3,388.4 C355.2,387.6 352.6,385.9 350.8,384.5 C349.0,383.1 347.6,381.6 346.5,379.8 C345.4,378.0 344.7,375.8 344.3,373.5 C343.8,371.3 343.6,368.7 343.8,366.4 C344.1,364.0 345.0,361.5 345.8,359.3 C346.6,357.1 347.5,354.9 348.6,353.0 C349.8,351.2 351.2,349.6 352.9,348.4 C354.6,347.1 356.5,346.2 358.7,345.6 C360.9,344.9 363.2,344.6 365.9,344.4 C368.7,344.3 373.4,344.4 375.2,344.4 C377.0,344.5 376.4,344.2 376.7,344.5 C377.1,344.8 377.2,346.5 377.4,346.4 Z" fill="#beb4d2" filter="url(#bb2)"/>
<ellipse cx="376" cy="353.5" rx="13" ry="4.5" transform="rotate(0 376 353.5)" fill="#dcd8e0" opacity="0.9" filter="url(#bb15)"/><ellipse cx="356" cy="370" rx="8" ry="13" transform="rotate(10 356 370)" fill="#cfc9d8" opacity="0.6" filter="url(#bb2)"/><ellipse cx="398" cy="370" rx="8" ry="13" transform="rotate(-10 398 370)" fill="#cfc9d8" opacity="0.6" filter="url(#bb2)"/><ellipse cx="377" cy="380" rx="8" ry="10" transform="rotate(0 377 380)" fill="#ab9bd4" opacity="0.6" filter="url(#bb2)"/>
<rect x="325.6" y="330.3" width="105.19999999999999" height="65.5" filter="url(#texd)" opacity="0.4"/>
<rect x="325.6" y="330.3" width="105.19999999999999" height="65.5" filter="url(#texl)" opacity="0.22"/>

<path d="M377.0,336.0 C377.3,335.8 375.9,332.7 378.0,332.3 C380.1,331.9 385.6,333.0 389.7,333.4 C393.8,333.8 398.5,334.0 402.4,334.9 C406.3,335.8 409.8,337.0 413.0,338.7 C416.2,340.4 419.1,342.5 421.4,345.0 C423.7,347.5 425.5,350.0 426.7,353.5 C427.9,357.0 428.4,363.9 428.8,366.0 C429.2,368.1 429.2,364.5 428.8,366.3 C428.4,368.1 427.9,373.7 426.7,376.9 C425.5,380.1 423.3,383.1 421.4,385.4 C419.5,387.7 417.6,389.3 415.1,390.7 C412.6,392.1 409.4,393.4 406.6,393.8 C403.8,394.2 401.0,393.3 398.2,392.8 C395.4,392.3 392.5,391.2 389.7,390.7 C386.9,390.2 383.7,389.8 381.2,389.6 C378.7,389.4 377.2,389.8 374.9,389.6 C372.6,389.4 369.4,388.2 367.5,388.6 C365.6,389.0 365.2,390.8 363.3,391.7 C361.4,392.6 358.5,393.6 355.8,393.8 C353.1,394.0 350.4,393.9 347.4,392.8 C344.4,391.8 340.5,389.4 337.9,387.5 C335.2,385.6 333.1,383.7 331.5,381.2 C329.9,378.7 328.9,375.7 328.3,372.7 C327.7,369.7 327.2,366.2 327.6,363.0 C328.0,359.8 329.3,356.5 330.5,353.5 C331.7,350.5 332.9,347.5 334.7,345.0 C336.4,342.5 338.5,340.4 341.0,338.7 C343.5,337.0 346.3,335.8 349.5,334.9 C352.7,334.0 356.1,333.6 360.1,333.4 C364.2,333.1 371.2,333.4 373.8,333.4 C376.4,333.4 375.5,333.1 376.0,333.5 C376.5,333.9 376.7,336.2 377.0,336.0 Z" fill="none" stroke="url(#eg7)" stroke-width="2.6"/>
</g>
<path d="M358,350 C358,355 360,358 363,360" fill="none" stroke="#3a2a8c" stroke-width="1.3" opacity="1" stroke-linecap="round"/><path d="M396,350 C396,355 394,358 391,360" fill="none" stroke="#3a2a8c" stroke-width="1.3" opacity="1" stroke-linecap="round"/><path d="M366,360 C372,362 382,363 390,361" fill="none" stroke="#3a2a8c" stroke-width="1.1" opacity="1" stroke-linecap="round"/><path d="M370,362 C371,368 372,374 373,380" fill="none" stroke="#4a3a9a" stroke-width="0.9" opacity="1" stroke-linecap="round"/><path d="M384,362 C383,368 381,374 380,381" fill="none" stroke="#4a3a9a" stroke-width="0.9" opacity="1" stroke-linecap="round"/><path d="M377,333 L377,346" fill="none" stroke="#6a58b0" stroke-width="0.8" opacity="1" stroke-linecap="round"/>
</g>
<clipPath id="bc8"><path d="M376.4,425.5 C377.3,425.5 377.1,414.8 379.2,412.5 C381.3,410.2 385.1,411.4 388.9,411.5 C392.7,411.6 397.9,412.1 401.8,413.2 C405.8,414.3 409.4,415.8 412.6,417.9 C415.8,419.9 418.9,422.6 421.2,425.5 C423.5,428.4 425.3,431.9 426.6,435.2 C427.9,438.4 428.6,442.1 428.8,445.0 C429.0,447.9 428.6,449.8 427.7,452.9 C426.8,456.0 425.0,460.8 423.4,463.7 C421.8,466.6 420.1,468.4 418.0,470.2 C415.9,472.0 413.2,473.8 410.5,474.5 C407.8,475.2 404.5,475.1 401.8,474.5 C399.1,473.9 396.5,471.6 394.3,471.2 C392.1,470.8 390.5,471.3 388.9,472.3 C387.3,473.3 387.1,476.1 384.6,477.0 C382.1,477.9 376.9,478.1 373.8,477.7 C370.8,477.3 368.1,475.8 366.3,474.5 C364.5,473.2 364.4,470.4 363.1,470.2 C361.9,470.0 360.6,472.5 358.8,473.4 C357.0,474.3 354.8,475.4 352.3,475.5 C349.8,475.6 346.7,475.2 343.7,474.0 C340.7,472.8 337.0,470.3 334.5,468.0 C332.0,465.7 329.9,462.8 328.5,460.0 C327.1,457.2 326.3,454.0 325.8,451.0 C325.3,448.0 325.0,445.0 325.6,442.0 C326.2,439.0 328.1,436.1 329.7,433.0 C331.3,429.9 332.8,426.2 335.1,423.3 C337.4,420.4 340.5,417.7 343.7,415.8 C346.9,413.9 350.9,412.7 354.5,411.9 C358.1,411.1 362.0,410.9 365.2,411.0 C368.4,411.1 371.9,410.1 373.8,412.5 C375.7,414.9 375.5,425.5 376.4,425.5 Z"/></clipPath>
<linearGradient id="eg8" gradientUnits="userSpaceOnUse" x1="0" y1="411" x2="0" y2="477.7"><stop offset="0" stop-color="#7a62b8" stop-opacity="0.12"/><stop offset="0.5" stop-color="#6a50ae" stop-opacity="0.18"/><stop offset="0.8" stop-color="#4a3098" stop-opacity="0.7"/><stop offset="1" stop-color="#3c2590" stop-opacity="1"/></linearGradient>
<g filter="url(#rough)"><g clip-path="url(#bc8)">
<path d="M376.4,425.5 C377.3,425.5 377.1,414.8 379.2,412.5 C381.3,410.2 385.1,411.4 388.9,411.5 C392.7,411.6 397.9,412.1 401.8,413.2 C405.8,414.3 409.4,415.8 412.6,417.9 C415.8,419.9 418.9,422.6 421.2,425.5 C423.5,428.4 425.3,431.9 426.6,435.2 C427.9,438.4 428.6,442.1 428.8,445.0 C429.0,447.9 428.6,449.8 427.7,452.9 C426.8,456.0 425.0,460.8 423.4,463.7 C421.8,466.6 420.1,468.4 418.0,470.2 C415.9,472.0 413.2,473.8 410.5,474.5 C407.8,475.2 404.5,475.1 401.8,474.5 C399.1,473.9 396.5,471.6 394.3,471.2 C392.1,470.8 390.5,471.3 388.9,472.3 C387.3,473.3 387.1,476.1 384.6,477.0 C382.1,477.9 376.9,478.1 373.8,477.7 C370.8,477.3 368.1,475.8 366.3,474.5 C364.5,473.2 364.4,470.4 363.1,470.2 C361.9,470.0 360.6,472.5 358.8,473.4 C357.0,474.3 354.8,475.4 352.3,475.5 C349.8,475.6 346.7,475.2 343.7,474.0 C340.7,472.8 337.0,470.3 334.5,468.0 C332.0,465.7 329.9,462.8 328.5,460.0 C327.1,457.2 326.3,454.0 325.8,451.0 C325.3,448.0 325.0,445.0 325.6,442.0 C326.2,439.0 328.1,436.1 329.7,433.0 C331.3,429.9 332.8,426.2 335.1,423.3 C337.4,420.4 340.5,417.7 343.7,415.8 C346.9,413.9 350.9,412.7 354.5,411.9 C358.1,411.1 362.0,410.9 365.2,411.0 C368.4,411.1 371.9,410.1 373.8,412.5 C375.7,414.9 375.5,425.5 376.4,425.5 Z" fill="#9882c6"/>
<path d="M376.4,427.3 C377.3,427.3 377.1,417.4 379.0,415.3 C381.0,413.1 384.6,414.3 388.1,414.4 C391.6,414.5 396.4,415.0 400.1,415.9 C403.7,416.9 407.1,418.4 410.1,420.3 C413.1,422.1 415.9,424.6 418.1,427.3 C420.3,429.9 421.9,433.2 423.1,436.2 C424.3,439.2 425.0,442.5 425.2,445.2 C425.3,447.9 425.0,449.6 424.1,452.5 C423.3,455.3 421.6,459.7 420.1,462.4 C418.6,465.0 417.1,466.7 415.1,468.4 C413.1,470.0 410.7,471.7 408.1,472.3 C405.6,473.0 402.6,472.8 400.1,472.3 C397.5,471.8 395.1,469.6 393.1,469.3 C391.1,469.0 389.6,469.4 388.1,470.3 C386.6,471.2 386.4,473.8 384.1,474.6 C381.7,475.5 376.8,475.7 374.0,475.3 C371.2,474.9 368.7,473.5 367.0,472.3 C365.4,471.2 365.2,468.5 364.1,468.4 C362.9,468.2 361.7,470.5 360.1,471.3 C358.4,472.1 356.4,473.2 354.0,473.3 C351.7,473.3 348.8,473.0 346.0,471.9 C343.3,470.7 339.8,468.5 337.5,466.4 C335.1,464.2 333.2,461.6 331.9,459.0 C330.5,456.4 329.8,453.5 329.4,450.7 C328.9,448.0 328.6,445.2 329.2,442.4 C329.8,439.7 331.5,437.0 333.0,434.2 C334.5,431.3 335.9,427.9 338.0,425.2 C340.2,422.6 343.0,420.1 346.0,418.3 C349.0,416.6 352.7,415.5 356.1,414.7 C359.4,414.0 363.0,413.8 366.0,413.9 C369.0,414.0 372.3,413.1 374.0,415.3 C375.7,417.5 375.6,427.3 376.4,427.3 Z" fill="none" stroke="#ab9dd2" stroke-width="2" filter="url(#bb1)"/>
<path d="M376.5,434.2 C377.2,434.2 377.0,426.3 378.4,424.6 C379.9,422.8 382.5,423.7 385.0,423.8 C387.6,423.9 391.1,424.3 393.8,425.1 C396.5,425.9 399.0,427.0 401.2,428.6 C403.4,430.1 405.4,432.1 407.0,434.2 C408.6,436.3 409.8,439.0 410.7,441.4 C411.5,443.8 412.1,446.4 412.2,448.6 C412.3,450.8 412.0,452.2 411.4,454.5 C410.8,456.8 409.6,460.3 408.5,462.5 C407.4,464.6 406.3,465.9 404.8,467.3 C403.4,468.6 401.6,469.9 399.7,470.5 C397.9,471.0 395.7,470.9 393.8,470.5 C392.0,470.0 390.2,468.3 388.7,468.0 C387.3,467.7 386.1,468.1 385.0,468.8 C383.9,469.5 383.8,471.6 382.1,472.3 C380.4,473.0 376.8,473.1 374.8,472.8 C372.7,472.5 370.9,471.4 369.7,470.5 C368.5,469.5 368.3,467.4 367.5,467.3 C366.6,467.1 365.8,469.0 364.6,469.6 C363.4,470.3 361.9,471.1 360.2,471.2 C358.4,471.3 356.3,471.0 354.3,470.1 C352.3,469.2 349.8,467.4 348.1,465.6 C346.3,463.9 345.0,461.8 344.0,459.7 C343.0,457.6 342.5,455.3 342.1,453.1 C341.8,450.8 341.6,448.6 342.0,446.4 C342.4,444.2 343.7,442.0 344.8,439.7 C345.9,437.4 346.9,434.7 348.5,432.6 C350.0,430.4 352.1,428.4 354.3,427.0 C356.5,425.6 359.2,424.7 361.7,424.1 C364.1,423.5 366.7,423.4 368.9,423.5 C371.1,423.5 373.5,422.8 374.8,424.6 C376.0,426.4 375.9,434.2 376.5,434.2 Z" fill="#beb4d2" filter="url(#bb2)"/>
<ellipse cx="376" cy="431.5" rx="13" ry="4.5" transform="rotate(0 376 431.5)" fill="#dcd8e0" opacity="0.9" filter="url(#bb15)"/><ellipse cx="356" cy="450" rx="8" ry="14" transform="rotate(10 356 450)" fill="#cfc9d8" opacity="0.6" filter="url(#bb2)"/><ellipse cx="398" cy="450" rx="8" ry="14" transform="rotate(-10 398 450)" fill="#cfc9d8" opacity="0.6" filter="url(#bb2)"/><ellipse cx="377" cy="460" rx="8" ry="11" transform="rotate(0 377 460)" fill="#ab9bd4" opacity="0.6" filter="url(#bb2)"/>
<rect x="323.6" y="409" width="107.19999999999999" height="70.69999999999999" filter="url(#texd)" opacity="0.4"/>
<rect x="323.6" y="409" width="107.19999999999999" height="70.69999999999999" filter="url(#texl)" opacity="0.22"/>

<path d="M376.4,425.5 C377.3,425.5 377.1,414.8 379.2,412.5 C381.3,410.2 385.1,411.4 388.9,411.5 C392.7,411.6 397.9,412.1 401.8,413.2 C405.8,414.3 409.4,415.8 412.6,417.9 C415.8,419.9 418.9,422.6 421.2,425.5 C423.5,428.4 425.3,431.9 426.6,435.2 C427.9,438.4 428.6,442.1 428.8,445.0 C429.0,447.9 428.6,449.8 427.7,452.9 C426.8,456.0 425.0,460.8 423.4,463.7 C421.8,466.6 420.1,468.4 418.0,470.2 C415.9,472.0 413.2,473.8 410.5,474.5 C407.8,475.2 404.5,475.1 401.8,474.5 C399.1,473.9 396.5,471.6 394.3,471.2 C392.1,470.8 390.5,471.3 388.9,472.3 C387.3,473.3 387.1,476.1 384.6,477.0 C382.1,477.9 376.9,478.1 373.8,477.7 C370.8,477.3 368.1,475.8 366.3,474.5 C364.5,473.2 364.4,470.4 363.1,470.2 C361.9,470.0 360.6,472.5 358.8,473.4 C357.0,474.3 354.8,475.4 352.3,475.5 C349.8,475.6 346.7,475.2 343.7,474.0 C340.7,472.8 337.0,470.3 334.5,468.0 C332.0,465.7 329.9,462.8 328.5,460.0 C327.1,457.2 326.3,454.0 325.8,451.0 C325.3,448.0 325.0,445.0 325.6,442.0 C326.2,439.0 328.1,436.1 329.7,433.0 C331.3,429.9 332.8,426.2 335.1,423.3 C337.4,420.4 340.5,417.7 343.7,415.8 C346.9,413.9 350.9,412.7 354.5,411.9 C358.1,411.1 362.0,410.9 365.2,411.0 C368.4,411.1 371.9,410.1 373.8,412.5 C375.7,414.9 375.5,425.5 376.4,425.5 Z" fill="none" stroke="url(#eg8)" stroke-width="2.6"/>
</g>
<path d="M358,428 C358,433 360,436 363,438" fill="none" stroke="#3a2a8c" stroke-width="1.3" opacity="1" stroke-linecap="round"/><path d="M396,428 C396,433 394,436 391,438" fill="none" stroke="#3a2a8c" stroke-width="1.3" opacity="1" stroke-linecap="round"/><path d="M366,438 C372,440 382,441 390,439" fill="none" stroke="#3a2a8c" stroke-width="1.1" opacity="1" stroke-linecap="round"/><path d="M372,455 L375,462" fill="none" stroke="#4a3a9a" stroke-width="1.0" opacity="1" stroke-linecap="round"/><path d="M382,455 L379,462" fill="none" stroke="#4a3a9a" stroke-width="1.0" opacity="1" stroke-linecap="round"/><path d="M377,411 L377,425" fill="none" stroke="#6a58b0" stroke-width="0.8" opacity="1" stroke-linecap="round"/>
</g>
<line x1="57.10" y1="320.40" x2="70.10" y2="333.93" stroke="#111" stroke-width="1.5" />
<polygon points="74.40,338.40 67.32,336.19 72.47,331.24" fill="#111"/>
<line x1="58.50" y1="411.00" x2="71.99" y2="424.94" stroke="#111" stroke-width="1.5" />
<polygon points="76.30,429.40 69.21,427.21 74.35,422.24" fill="#111"/>
<line x1="181.30" y1="324.80" x2="194.85" y2="339.19" stroke="#111" stroke-width="1.5" />
<polygon points="199.10,343.70 192.04,341.42 197.25,336.52" fill="#111"/>
<line x1="182.10" y1="398.60" x2="196.55" y2="412.59" stroke="#111" stroke-width="1.5" />
<polygon points="201.00,416.90 193.84,414.95 198.82,409.81" fill="#111"/>
<text x="113.5" y="514.7" font-size="16.6" fill="#111" stroke="#111" stroke-width="0.2" >t-PA</text>
<text x="225" y="514.7" font-size="16.1" fill="#111" stroke="#111" stroke-width="0.2" >mAPC<tspan font-size="12.8" dy="-7.2">PS</tspan></text>
<text x="332.3" y="514.7" font-size="16.1" fill="#111" stroke="#111" stroke-width="0.2" >mAPC<tspan font-size="13.1" dy="-7.2">PS/N329Q</tspan></text>
</svg>
</body></html>
